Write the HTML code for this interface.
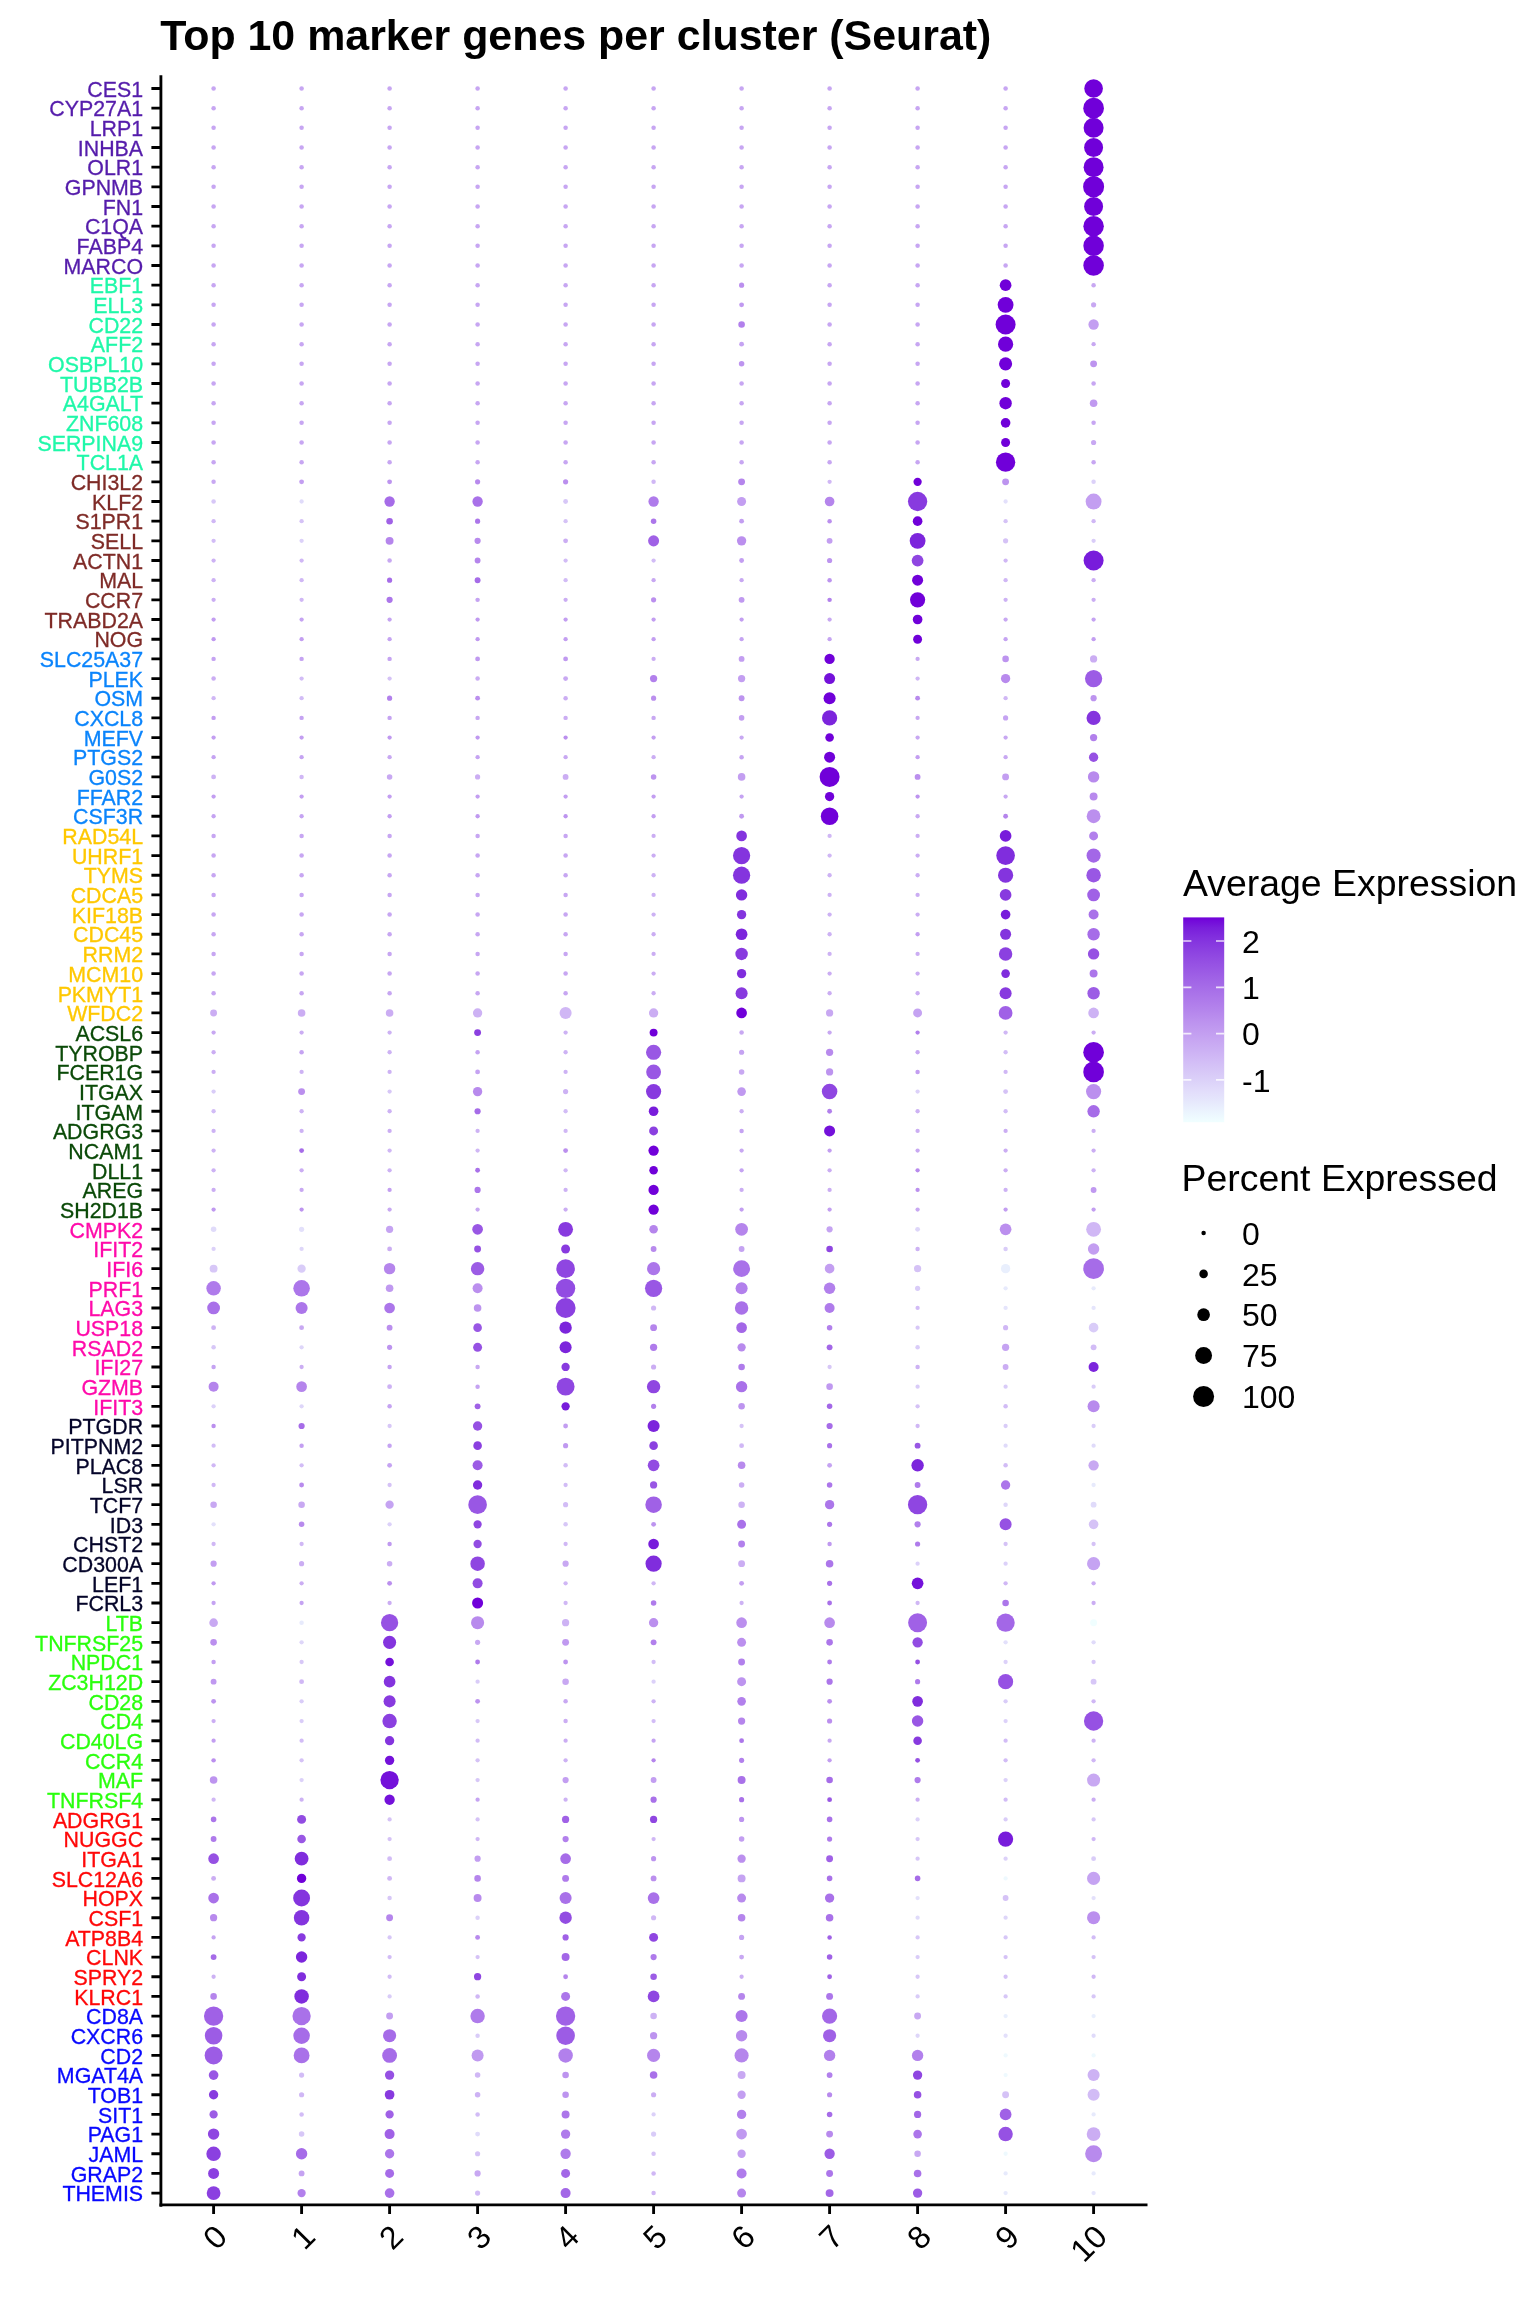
<!DOCTYPE html>
<html><head><meta charset="utf-8"><title>Top 10 marker genes per cluster (Seurat)</title>
<style>html,body{margin:0;padding:0;background:#fff}svg{display:block;will-change:transform}text{font-family:"Liberation Sans",sans-serif}</style></head><body>
<svg width="1536" height="2304" viewBox="0 0 1536 2304">
<rect width="1536" height="2304" fill="#fff"/>
<text x="160.2" y="50.3" font-size="42.9" font-weight="bold" fill="#000">Top 10 marker genes per cluster (Seurat)</text>
<g>
<circle cx="213.6" cy="88.46" r="2.25" fill="#c7a6f2"/>
<circle cx="301.6" cy="88.46" r="2.25" fill="#c7a6f2"/>
<circle cx="389.6" cy="88.46" r="2.25" fill="#c7a6f2"/>
<circle cx="477.6" cy="88.46" r="2.25" fill="#c7a6f2"/>
<circle cx="565.6" cy="88.46" r="2.25" fill="#c7a6f2"/>
<circle cx="653.6" cy="88.46" r="2.25" fill="#c7a6f2"/>
<circle cx="741.6" cy="88.46" r="2.25" fill="#c7a6f2"/>
<circle cx="829.6" cy="88.46" r="2.25" fill="#c7a6f2"/>
<circle cx="917.6" cy="88.46" r="2.25" fill="#c7a6f2"/>
<circle cx="1005.6" cy="88.46" r="2.25" fill="#c7a6f2"/>
<circle cx="1093.6" cy="88.46" r="9.31" fill="#7000d9"/>
<circle cx="213.6" cy="108.13" r="2.25" fill="#c7a6f2"/>
<circle cx="301.6" cy="108.13" r="2.25" fill="#c7a6f2"/>
<circle cx="389.6" cy="108.13" r="2.25" fill="#c7a6f2"/>
<circle cx="477.6" cy="108.13" r="2.25" fill="#c7a6f2"/>
<circle cx="565.6" cy="108.13" r="2.25" fill="#c7a6f2"/>
<circle cx="653.6" cy="108.13" r="2.25" fill="#c7a6f2"/>
<circle cx="741.6" cy="108.13" r="2.25" fill="#c7a6f2"/>
<circle cx="829.6" cy="108.13" r="2.25" fill="#c7a6f2"/>
<circle cx="917.6" cy="108.13" r="2.25" fill="#c7a6f2"/>
<circle cx="1005.6" cy="108.13" r="2.25" fill="#c7a6f2"/>
<circle cx="1093.6" cy="108.13" r="10.34" fill="#7000d9"/>
<circle cx="213.6" cy="127.80" r="2.25" fill="#c7a6f2"/>
<circle cx="301.6" cy="127.80" r="2.25" fill="#c7a6f2"/>
<circle cx="389.6" cy="127.80" r="2.25" fill="#c7a6f2"/>
<circle cx="477.6" cy="127.80" r="2.25" fill="#c7a6f2"/>
<circle cx="565.6" cy="127.80" r="2.25" fill="#c7a6f2"/>
<circle cx="653.6" cy="127.80" r="2.25" fill="#c7a6f2"/>
<circle cx="741.6" cy="127.80" r="2.25" fill="#c7a6f2"/>
<circle cx="829.6" cy="127.80" r="2.25" fill="#c7a6f2"/>
<circle cx="917.6" cy="127.80" r="2.25" fill="#c7a6f2"/>
<circle cx="1005.6" cy="127.80" r="2.25" fill="#c7a6f2"/>
<circle cx="1093.6" cy="127.80" r="10.00" fill="#7000d9"/>
<circle cx="213.6" cy="147.47" r="2.25" fill="#c7a6f2"/>
<circle cx="301.6" cy="147.47" r="2.25" fill="#c7a6f2"/>
<circle cx="389.6" cy="147.47" r="2.25" fill="#c7a6f2"/>
<circle cx="477.6" cy="147.47" r="2.25" fill="#c7a6f2"/>
<circle cx="565.6" cy="147.47" r="2.25" fill="#c7a6f2"/>
<circle cx="653.6" cy="147.47" r="2.25" fill="#c7a6f2"/>
<circle cx="741.6" cy="147.47" r="2.25" fill="#c7a6f2"/>
<circle cx="829.6" cy="147.47" r="2.25" fill="#c7a6f2"/>
<circle cx="917.6" cy="147.47" r="2.25" fill="#c7a6f2"/>
<circle cx="1005.6" cy="147.47" r="2.25" fill="#c7a6f2"/>
<circle cx="1093.6" cy="147.47" r="9.48" fill="#7000d9"/>
<circle cx="213.6" cy="167.14" r="2.25" fill="#c7a6f2"/>
<circle cx="301.6" cy="167.14" r="2.25" fill="#c7a6f2"/>
<circle cx="389.6" cy="167.14" r="2.25" fill="#c7a6f2"/>
<circle cx="477.6" cy="167.14" r="2.25" fill="#c7a6f2"/>
<circle cx="565.6" cy="167.14" r="2.25" fill="#c7a6f2"/>
<circle cx="653.6" cy="167.14" r="2.25" fill="#c7a6f2"/>
<circle cx="741.6" cy="167.14" r="2.25" fill="#c7a6f2"/>
<circle cx="829.6" cy="167.14" r="2.25" fill="#c7a6f2"/>
<circle cx="917.6" cy="167.14" r="2.25" fill="#c7a6f2"/>
<circle cx="1005.6" cy="167.14" r="2.25" fill="#c7a6f2"/>
<circle cx="1093.6" cy="167.14" r="10.00" fill="#7000d9"/>
<circle cx="213.6" cy="186.81" r="2.25" fill="#c7a6f2"/>
<circle cx="301.6" cy="186.81" r="2.25" fill="#c7a6f2"/>
<circle cx="389.6" cy="186.81" r="2.25" fill="#c7a6f2"/>
<circle cx="477.6" cy="186.81" r="2.25" fill="#c7a6f2"/>
<circle cx="565.6" cy="186.81" r="2.25" fill="#c7a6f2"/>
<circle cx="653.6" cy="186.81" r="2.25" fill="#c7a6f2"/>
<circle cx="741.6" cy="186.81" r="2.25" fill="#c7a6f2"/>
<circle cx="829.6" cy="186.81" r="2.25" fill="#c7a6f2"/>
<circle cx="917.6" cy="186.81" r="2.25" fill="#c7a6f2"/>
<circle cx="1005.6" cy="186.81" r="2.25" fill="#c7a6f2"/>
<circle cx="1093.6" cy="186.81" r="10.52" fill="#7000d9"/>
<circle cx="213.6" cy="206.48" r="2.25" fill="#c7a6f2"/>
<circle cx="301.6" cy="206.48" r="2.25" fill="#c7a6f2"/>
<circle cx="389.6" cy="206.48" r="2.25" fill="#c7a6f2"/>
<circle cx="477.6" cy="206.48" r="2.25" fill="#c7a6f2"/>
<circle cx="565.6" cy="206.48" r="2.25" fill="#c7a6f2"/>
<circle cx="653.6" cy="206.48" r="2.25" fill="#c7a6f2"/>
<circle cx="741.6" cy="206.48" r="2.25" fill="#c7a6f2"/>
<circle cx="829.6" cy="206.48" r="2.25" fill="#c7a6f2"/>
<circle cx="917.6" cy="206.48" r="2.25" fill="#c7a6f2"/>
<circle cx="1005.6" cy="206.48" r="2.25" fill="#c7a6f2"/>
<circle cx="1093.6" cy="206.48" r="9.48" fill="#7000d9"/>
<circle cx="213.6" cy="226.15" r="2.25" fill="#c7a6f2"/>
<circle cx="301.6" cy="226.15" r="2.25" fill="#c7a6f2"/>
<circle cx="389.6" cy="226.15" r="2.25" fill="#c7a6f2"/>
<circle cx="477.6" cy="226.15" r="2.25" fill="#c7a6f2"/>
<circle cx="565.6" cy="226.15" r="2.25" fill="#c7a6f2"/>
<circle cx="653.6" cy="226.15" r="2.25" fill="#c7a6f2"/>
<circle cx="741.6" cy="226.15" r="2.25" fill="#c7a6f2"/>
<circle cx="829.6" cy="226.15" r="2.25" fill="#c7a6f2"/>
<circle cx="917.6" cy="226.15" r="2.25" fill="#c7a6f2"/>
<circle cx="1005.6" cy="226.15" r="2.25" fill="#c7a6f2"/>
<circle cx="1093.6" cy="226.15" r="10.26" fill="#7000d9"/>
<circle cx="213.6" cy="245.82" r="2.25" fill="#c7a6f2"/>
<circle cx="301.6" cy="245.82" r="2.25" fill="#c7a6f2"/>
<circle cx="389.6" cy="245.82" r="2.25" fill="#c7a6f2"/>
<circle cx="477.6" cy="245.82" r="2.25" fill="#c7a6f2"/>
<circle cx="565.6" cy="245.82" r="2.25" fill="#c7a6f2"/>
<circle cx="653.6" cy="245.82" r="2.25" fill="#c7a6f2"/>
<circle cx="741.6" cy="245.82" r="2.25" fill="#c7a6f2"/>
<circle cx="829.6" cy="245.82" r="2.25" fill="#c7a6f2"/>
<circle cx="917.6" cy="245.82" r="2.25" fill="#c7a6f2"/>
<circle cx="1005.6" cy="245.82" r="2.25" fill="#c7a6f2"/>
<circle cx="1093.6" cy="245.82" r="10.26" fill="#7000d9"/>
<circle cx="213.6" cy="265.49" r="2.25" fill="#c7a6f2"/>
<circle cx="301.6" cy="265.49" r="2.25" fill="#c7a6f2"/>
<circle cx="389.6" cy="265.49" r="2.25" fill="#c7a6f2"/>
<circle cx="477.6" cy="265.49" r="2.25" fill="#c7a6f2"/>
<circle cx="565.6" cy="265.49" r="2.25" fill="#c7a6f2"/>
<circle cx="653.6" cy="265.49" r="2.25" fill="#c7a6f2"/>
<circle cx="741.6" cy="265.49" r="2.25" fill="#c7a6f2"/>
<circle cx="829.6" cy="265.49" r="2.25" fill="#c7a6f2"/>
<circle cx="917.6" cy="265.49" r="2.25" fill="#c7a6f2"/>
<circle cx="1005.6" cy="265.49" r="2.25" fill="#c7a6f2"/>
<circle cx="1093.6" cy="265.49" r="10.26" fill="#7000d9"/>
<circle cx="213.6" cy="285.15" r="2.25" fill="#c7a6f2"/>
<circle cx="301.6" cy="285.15" r="2.25" fill="#c7a6f2"/>
<circle cx="389.6" cy="285.15" r="2.25" fill="#c7a6f2"/>
<circle cx="477.6" cy="285.15" r="2.25" fill="#c7a6f2"/>
<circle cx="565.6" cy="285.15" r="2.25" fill="#c7a6f2"/>
<circle cx="653.6" cy="285.15" r="2.25" fill="#c7a6f2"/>
<circle cx="741.6" cy="285.15" r="2.59" fill="#bb8fee"/>
<circle cx="829.6" cy="285.15" r="2.25" fill="#c7a6f2"/>
<circle cx="917.6" cy="285.15" r="2.25" fill="#c7a6f2"/>
<circle cx="1005.6" cy="285.15" r="5.86" fill="#7000d9"/>
<circle cx="1093.6" cy="285.15" r="2.24" fill="#c8a8f2"/>
<circle cx="213.6" cy="304.82" r="2.25" fill="#c7a6f2"/>
<circle cx="301.6" cy="304.82" r="2.25" fill="#c7a6f2"/>
<circle cx="389.6" cy="304.82" r="2.25" fill="#c7a6f2"/>
<circle cx="477.6" cy="304.82" r="2.25" fill="#c7a6f2"/>
<circle cx="565.6" cy="304.82" r="2.25" fill="#c7a6f2"/>
<circle cx="653.6" cy="304.82" r="2.25" fill="#c7a6f2"/>
<circle cx="741.6" cy="304.82" r="2.41" fill="#c099f0"/>
<circle cx="829.6" cy="304.82" r="2.25" fill="#c7a6f2"/>
<circle cx="917.6" cy="304.82" r="2.25" fill="#c7a6f2"/>
<circle cx="1005.6" cy="304.82" r="7.93" fill="#7000d9"/>
<circle cx="1093.6" cy="304.82" r="2.59" fill="#c8a8f2"/>
<circle cx="213.6" cy="324.49" r="2.25" fill="#c7a6f2"/>
<circle cx="301.6" cy="324.49" r="2.25" fill="#c7a6f2"/>
<circle cx="389.6" cy="324.49" r="2.25" fill="#c7a6f2"/>
<circle cx="477.6" cy="324.49" r="2.25" fill="#c7a6f2"/>
<circle cx="565.6" cy="324.49" r="2.25" fill="#c7a6f2"/>
<circle cx="653.6" cy="324.49" r="2.25" fill="#c7a6f2"/>
<circle cx="741.6" cy="324.49" r="3.28" fill="#b280ec"/>
<circle cx="829.6" cy="324.49" r="2.25" fill="#c7a6f2"/>
<circle cx="917.6" cy="324.49" r="2.25" fill="#c7a6f2"/>
<circle cx="1005.6" cy="324.49" r="10.00" fill="#7000d9"/>
<circle cx="1093.6" cy="324.49" r="5.17" fill="#c39ef1"/>
<circle cx="213.6" cy="344.16" r="2.25" fill="#c7a6f2"/>
<circle cx="301.6" cy="344.16" r="2.25" fill="#c7a6f2"/>
<circle cx="389.6" cy="344.16" r="2.25" fill="#c7a6f2"/>
<circle cx="477.6" cy="344.16" r="2.25" fill="#c7a6f2"/>
<circle cx="565.6" cy="344.16" r="2.25" fill="#c7a6f2"/>
<circle cx="653.6" cy="344.16" r="2.25" fill="#c7a6f2"/>
<circle cx="741.6" cy="344.16" r="2.41" fill="#c5a3f2"/>
<circle cx="829.6" cy="344.16" r="2.25" fill="#c7a6f2"/>
<circle cx="917.6" cy="344.16" r="2.25" fill="#c7a6f2"/>
<circle cx="1005.6" cy="344.16" r="7.59" fill="#7000d9"/>
<circle cx="1093.6" cy="344.16" r="2.15" fill="#c8a8f2"/>
<circle cx="213.6" cy="363.83" r="2.25" fill="#c7a6f2"/>
<circle cx="301.6" cy="363.83" r="2.25" fill="#c7a6f2"/>
<circle cx="389.6" cy="363.83" r="2.25" fill="#c7a6f2"/>
<circle cx="477.6" cy="363.83" r="2.25" fill="#c7a6f2"/>
<circle cx="565.6" cy="363.83" r="2.25" fill="#c7a6f2"/>
<circle cx="653.6" cy="363.83" r="2.25" fill="#c7a6f2"/>
<circle cx="741.6" cy="363.83" r="2.76" fill="#bd94ef"/>
<circle cx="829.6" cy="363.83" r="2.25" fill="#c7a6f2"/>
<circle cx="917.6" cy="363.83" r="2.25" fill="#c7a6f2"/>
<circle cx="1005.6" cy="363.83" r="6.55" fill="#7000d9"/>
<circle cx="1093.6" cy="363.83" r="3.45" fill="#bd94ef"/>
<circle cx="213.6" cy="383.50" r="2.25" fill="#c7a6f2"/>
<circle cx="301.6" cy="383.50" r="2.25" fill="#c7a6f2"/>
<circle cx="389.6" cy="383.50" r="2.25" fill="#c7a6f2"/>
<circle cx="477.6" cy="383.50" r="2.25" fill="#c7a6f2"/>
<circle cx="565.6" cy="383.50" r="2.25" fill="#c7a6f2"/>
<circle cx="653.6" cy="383.50" r="2.25" fill="#c7a6f2"/>
<circle cx="741.6" cy="383.50" r="2.25" fill="#c7a6f2"/>
<circle cx="829.6" cy="383.50" r="2.25" fill="#c7a6f2"/>
<circle cx="917.6" cy="383.50" r="2.25" fill="#c7a6f2"/>
<circle cx="1005.6" cy="383.50" r="4.48" fill="#7000d9"/>
<circle cx="1093.6" cy="383.50" r="2.25" fill="#c7a6f2"/>
<circle cx="213.6" cy="403.17" r="2.25" fill="#c7a6f2"/>
<circle cx="301.6" cy="403.17" r="2.25" fill="#c7a6f2"/>
<circle cx="389.6" cy="403.17" r="2.25" fill="#c7a6f2"/>
<circle cx="477.6" cy="403.17" r="2.25" fill="#c7a6f2"/>
<circle cx="565.6" cy="403.17" r="2.25" fill="#c7a6f2"/>
<circle cx="653.6" cy="403.17" r="2.25" fill="#c7a6f2"/>
<circle cx="741.6" cy="403.17" r="2.25" fill="#c7a6f2"/>
<circle cx="829.6" cy="403.17" r="2.25" fill="#c7a6f2"/>
<circle cx="917.6" cy="403.17" r="2.25" fill="#c7a6f2"/>
<circle cx="1005.6" cy="403.17" r="6.21" fill="#7000d9"/>
<circle cx="1093.6" cy="403.17" r="3.79" fill="#c099f0"/>
<circle cx="213.6" cy="422.84" r="2.25" fill="#c7a6f2"/>
<circle cx="301.6" cy="422.84" r="2.25" fill="#c7a6f2"/>
<circle cx="389.6" cy="422.84" r="2.25" fill="#c7a6f2"/>
<circle cx="477.6" cy="422.84" r="2.25" fill="#c7a6f2"/>
<circle cx="565.6" cy="422.84" r="2.25" fill="#c7a6f2"/>
<circle cx="653.6" cy="422.84" r="2.25" fill="#c7a6f2"/>
<circle cx="741.6" cy="422.84" r="2.25" fill="#c7a6f2"/>
<circle cx="829.6" cy="422.84" r="2.25" fill="#c7a6f2"/>
<circle cx="917.6" cy="422.84" r="2.25" fill="#c7a6f2"/>
<circle cx="1005.6" cy="422.84" r="4.83" fill="#7000d9"/>
<circle cx="1093.6" cy="422.84" r="2.25" fill="#c7a6f2"/>
<circle cx="213.6" cy="442.51" r="2.25" fill="#c7a6f2"/>
<circle cx="301.6" cy="442.51" r="2.25" fill="#c7a6f2"/>
<circle cx="389.6" cy="442.51" r="2.25" fill="#c7a6f2"/>
<circle cx="477.6" cy="442.51" r="2.25" fill="#c7a6f2"/>
<circle cx="565.6" cy="442.51" r="2.25" fill="#c7a6f2"/>
<circle cx="653.6" cy="442.51" r="2.25" fill="#c7a6f2"/>
<circle cx="741.6" cy="442.51" r="2.25" fill="#c7a6f2"/>
<circle cx="829.6" cy="442.51" r="2.25" fill="#c7a6f2"/>
<circle cx="917.6" cy="442.51" r="2.25" fill="#c7a6f2"/>
<circle cx="1005.6" cy="442.51" r="4.48" fill="#7000d9"/>
<circle cx="1093.6" cy="442.51" r="2.59" fill="#c8a8f2"/>
<circle cx="213.6" cy="462.18" r="2.25" fill="#c7a6f2"/>
<circle cx="301.6" cy="462.18" r="2.25" fill="#c7a6f2"/>
<circle cx="389.6" cy="462.18" r="2.25" fill="#c7a6f2"/>
<circle cx="477.6" cy="462.18" r="2.25" fill="#c7a6f2"/>
<circle cx="565.6" cy="462.18" r="2.25" fill="#c7a6f2"/>
<circle cx="653.6" cy="462.18" r="2.25" fill="#c7a6f2"/>
<circle cx="741.6" cy="462.18" r="2.25" fill="#c7a6f2"/>
<circle cx="829.6" cy="462.18" r="2.25" fill="#c7a6f2"/>
<circle cx="917.6" cy="462.18" r="2.25" fill="#c7a6f2"/>
<circle cx="1005.6" cy="462.18" r="9.66" fill="#7000d9"/>
<circle cx="1093.6" cy="462.18" r="2.25" fill="#c7a6f2"/>
<circle cx="213.6" cy="481.85" r="2.24" fill="#c8a8f2"/>
<circle cx="301.6" cy="481.85" r="2.41" fill="#c39ef1"/>
<circle cx="389.6" cy="481.85" r="2.41" fill="#bd94ef"/>
<circle cx="477.6" cy="481.85" r="2.59" fill="#b88aed"/>
<circle cx="565.6" cy="481.85" r="2.59" fill="#bb8fee"/>
<circle cx="653.6" cy="481.85" r="2.24" fill="#d0b7f5"/>
<circle cx="741.6" cy="481.85" r="3.45" fill="#b585ec"/>
<circle cx="829.6" cy="481.85" r="2.15" fill="#d0b7f5"/>
<circle cx="917.6" cy="481.85" r="4.14" fill="#7000d9"/>
<circle cx="1005.6" cy="481.85" r="3.45" fill="#bd94ef"/>
<circle cx="1093.6" cy="481.85" r="2.24" fill="#dcd1f9"/>
<circle cx="213.6" cy="501.52" r="2.24" fill="#d7c7f7"/>
<circle cx="301.6" cy="501.52" r="2.15" fill="#e0dbfa"/>
<circle cx="389.6" cy="501.52" r="5.17" fill="#a66ce8"/>
<circle cx="477.6" cy="501.52" r="5.17" fill="#a971e9"/>
<circle cx="565.6" cy="501.52" r="2.41" fill="#d7c7f7"/>
<circle cx="653.6" cy="501.52" r="5.17" fill="#af7beb"/>
<circle cx="741.6" cy="501.52" r="4.48" fill="#c39ef1"/>
<circle cx="829.6" cy="501.52" r="4.83" fill="#b585ec"/>
<circle cx="917.6" cy="501.52" r="9.66" fill="#883adf"/>
<circle cx="1005.6" cy="501.52" r="2.15" fill="#e3e0fb"/>
<circle cx="1093.6" cy="501.52" r="7.93" fill="#c39ef1"/>
<circle cx="213.6" cy="521.19" r="2.15" fill="#d0b7f5"/>
<circle cx="301.6" cy="521.19" r="2.15" fill="#d5c2f6"/>
<circle cx="389.6" cy="521.19" r="3.28" fill="#a061e6"/>
<circle cx="477.6" cy="521.19" r="2.59" fill="#ac76ea"/>
<circle cx="565.6" cy="521.19" r="2.15" fill="#d5c2f6"/>
<circle cx="653.6" cy="521.19" r="2.76" fill="#ac76ea"/>
<circle cx="741.6" cy="521.19" r="2.41" fill="#c39ef1"/>
<circle cx="829.6" cy="521.19" r="2.24" fill="#bb8fee"/>
<circle cx="917.6" cy="521.19" r="4.83" fill="#7000d9"/>
<circle cx="1005.6" cy="521.19" r="2.15" fill="#d5c2f6"/>
<circle cx="1093.6" cy="521.19" r="2.15" fill="#d0b7f5"/>
<circle cx="213.6" cy="540.86" r="2.15" fill="#d2bcf6"/>
<circle cx="301.6" cy="540.86" r="2.15" fill="#dcd1f9"/>
<circle cx="389.6" cy="540.86" r="3.97" fill="#b585ec"/>
<circle cx="477.6" cy="540.86" r="3.10" fill="#b88aed"/>
<circle cx="565.6" cy="540.86" r="2.41" fill="#cbadf3"/>
<circle cx="653.6" cy="540.86" r="5.52" fill="#a061e6"/>
<circle cx="741.6" cy="540.86" r="4.66" fill="#bb8fee"/>
<circle cx="829.6" cy="540.86" r="2.93" fill="#c39ef1"/>
<circle cx="917.6" cy="540.86" r="7.93" fill="#7c25dc"/>
<circle cx="1005.6" cy="540.86" r="2.59" fill="#d5c2f6"/>
<circle cx="1093.6" cy="540.86" r="2.15" fill="#d9ccf8"/>
<circle cx="213.6" cy="560.53" r="2.15" fill="#cdb2f4"/>
<circle cx="301.6" cy="560.53" r="2.15" fill="#d0b7f5"/>
<circle cx="389.6" cy="560.53" r="2.24" fill="#c8a8f2"/>
<circle cx="477.6" cy="560.53" r="2.93" fill="#b585ec"/>
<circle cx="565.6" cy="560.53" r="2.15" fill="#d2bcf6"/>
<circle cx="653.6" cy="560.53" r="2.15" fill="#d2bcf6"/>
<circle cx="741.6" cy="560.53" r="2.41" fill="#c39ef1"/>
<circle cx="829.6" cy="560.53" r="2.59" fill="#bd94ef"/>
<circle cx="917.6" cy="560.53" r="5.86" fill="#8f46e1"/>
<circle cx="1005.6" cy="560.53" r="2.15" fill="#d0b7f5"/>
<circle cx="1093.6" cy="560.53" r="10.00" fill="#781cdb"/>
<circle cx="213.6" cy="580.20" r="2.15" fill="#cdb2f4"/>
<circle cx="301.6" cy="580.20" r="2.15" fill="#d0b7f5"/>
<circle cx="389.6" cy="580.20" r="2.59" fill="#a66ce8"/>
<circle cx="477.6" cy="580.20" r="2.93" fill="#a66ce8"/>
<circle cx="565.6" cy="580.20" r="2.15" fill="#d2bcf6"/>
<circle cx="653.6" cy="580.20" r="2.15" fill="#c8a8f2"/>
<circle cx="741.6" cy="580.20" r="2.15" fill="#c8a8f2"/>
<circle cx="829.6" cy="580.20" r="2.24" fill="#bd94ef"/>
<circle cx="917.6" cy="580.20" r="5.52" fill="#7000d9"/>
<circle cx="1005.6" cy="580.20" r="2.15" fill="#d0b7f5"/>
<circle cx="1093.6" cy="580.20" r="2.15" fill="#cbadf3"/>
<circle cx="213.6" cy="599.87" r="2.15" fill="#cbadf3"/>
<circle cx="301.6" cy="599.87" r="2.15" fill="#d0b7f5"/>
<circle cx="389.6" cy="599.87" r="3.10" fill="#ac76ea"/>
<circle cx="477.6" cy="599.87" r="2.24" fill="#c5a3f2"/>
<circle cx="565.6" cy="599.87" r="2.15" fill="#cbadf3"/>
<circle cx="653.6" cy="599.87" r="2.59" fill="#bb8fee"/>
<circle cx="741.6" cy="599.87" r="2.93" fill="#c099f0"/>
<circle cx="829.6" cy="599.87" r="2.24" fill="#b280ec"/>
<circle cx="917.6" cy="599.87" r="7.59" fill="#7000d9"/>
<circle cx="1005.6" cy="599.87" r="2.15" fill="#cdb2f4"/>
<circle cx="1093.6" cy="599.87" r="2.15" fill="#cbadf3"/>
<circle cx="213.6" cy="619.54" r="2.15" fill="#c39ef1"/>
<circle cx="301.6" cy="619.54" r="2.15" fill="#c5a3f2"/>
<circle cx="389.6" cy="619.54" r="2.15" fill="#c5a3f2"/>
<circle cx="477.6" cy="619.54" r="2.15" fill="#c099f0"/>
<circle cx="565.6" cy="619.54" r="2.15" fill="#c39ef1"/>
<circle cx="653.6" cy="619.54" r="2.15" fill="#c39ef1"/>
<circle cx="741.6" cy="619.54" r="2.15" fill="#c39ef1"/>
<circle cx="829.6" cy="619.54" r="2.15" fill="#c8a8f2"/>
<circle cx="917.6" cy="619.54" r="4.83" fill="#7000d9"/>
<circle cx="1005.6" cy="619.54" r="2.15" fill="#c8a8f2"/>
<circle cx="1093.6" cy="619.54" r="2.15" fill="#c5a3f2"/>
<circle cx="213.6" cy="639.21" r="2.15" fill="#c099f0"/>
<circle cx="301.6" cy="639.21" r="2.15" fill="#c39ef1"/>
<circle cx="389.6" cy="639.21" r="2.15" fill="#c5a3f2"/>
<circle cx="477.6" cy="639.21" r="2.15" fill="#c099f0"/>
<circle cx="565.6" cy="639.21" r="2.15" fill="#c39ef1"/>
<circle cx="653.6" cy="639.21" r="2.15" fill="#c39ef1"/>
<circle cx="741.6" cy="639.21" r="2.15" fill="#c5a3f2"/>
<circle cx="829.6" cy="639.21" r="2.15" fill="#c5a3f2"/>
<circle cx="917.6" cy="639.21" r="4.48" fill="#7000d9"/>
<circle cx="1005.6" cy="639.21" r="2.15" fill="#c5a3f2"/>
<circle cx="1093.6" cy="639.21" r="2.15" fill="#c39ef1"/>
<circle cx="213.6" cy="658.88" r="2.24" fill="#c5a3f2"/>
<circle cx="301.6" cy="658.88" r="2.24" fill="#c5a3f2"/>
<circle cx="389.6" cy="658.88" r="2.24" fill="#c5a3f2"/>
<circle cx="477.6" cy="658.88" r="2.41" fill="#c099f0"/>
<circle cx="565.6" cy="658.88" r="2.41" fill="#c099f0"/>
<circle cx="653.6" cy="658.88" r="2.15" fill="#cbadf3"/>
<circle cx="741.6" cy="658.88" r="2.93" fill="#c39ef1"/>
<circle cx="829.6" cy="658.88" r="5.17" fill="#7000d9"/>
<circle cx="917.6" cy="658.88" r="2.15" fill="#c8a8f2"/>
<circle cx="1005.6" cy="658.88" r="3.28" fill="#bd94ef"/>
<circle cx="1093.6" cy="658.88" r="3.62" fill="#cbadf3"/>
<circle cx="213.6" cy="678.55" r="2.24" fill="#cbadf3"/>
<circle cx="301.6" cy="678.55" r="2.15" fill="#d2bcf6"/>
<circle cx="389.6" cy="678.55" r="2.15" fill="#d5c2f6"/>
<circle cx="477.6" cy="678.55" r="2.24" fill="#cbadf3"/>
<circle cx="565.6" cy="678.55" r="2.41" fill="#c8a8f2"/>
<circle cx="653.6" cy="678.55" r="3.62" fill="#b280ec"/>
<circle cx="741.6" cy="678.55" r="3.62" fill="#c39ef1"/>
<circle cx="829.6" cy="678.55" r="5.52" fill="#7411da"/>
<circle cx="917.6" cy="678.55" r="2.15" fill="#d0b7f5"/>
<circle cx="1005.6" cy="678.55" r="4.66" fill="#b88aed"/>
<circle cx="1093.6" cy="678.55" r="8.62" fill="#9c5ce5"/>
<circle cx="213.6" cy="698.21" r="2.15" fill="#d0b7f5"/>
<circle cx="301.6" cy="698.21" r="2.15" fill="#d2bcf6"/>
<circle cx="389.6" cy="698.21" r="2.59" fill="#b280ec"/>
<circle cx="477.6" cy="698.21" r="2.41" fill="#bb8fee"/>
<circle cx="565.6" cy="698.21" r="2.24" fill="#cbadf3"/>
<circle cx="653.6" cy="698.21" r="2.59" fill="#bb8fee"/>
<circle cx="741.6" cy="698.21" r="2.93" fill="#bd94ef"/>
<circle cx="829.6" cy="698.21" r="6.03" fill="#7000d9"/>
<circle cx="917.6" cy="698.21" r="2.41" fill="#b88aed"/>
<circle cx="1005.6" cy="698.21" r="2.15" fill="#d0b7f5"/>
<circle cx="1093.6" cy="698.21" r="3.10" fill="#bd94ef"/>
<circle cx="213.6" cy="717.88" r="2.24" fill="#c39ef1"/>
<circle cx="301.6" cy="717.88" r="2.24" fill="#c5a3f2"/>
<circle cx="389.6" cy="717.88" r="2.24" fill="#c5a3f2"/>
<circle cx="477.6" cy="717.88" r="2.24" fill="#c8a8f2"/>
<circle cx="565.6" cy="717.88" r="2.24" fill="#cbadf3"/>
<circle cx="653.6" cy="717.88" r="2.24" fill="#c8a8f2"/>
<circle cx="741.6" cy="717.88" r="2.76" fill="#c39ef1"/>
<circle cx="829.6" cy="717.88" r="7.59" fill="#7c25dc"/>
<circle cx="917.6" cy="717.88" r="2.15" fill="#c8a8f2"/>
<circle cx="1005.6" cy="717.88" r="2.59" fill="#c5a3f2"/>
<circle cx="1093.6" cy="717.88" r="7.07" fill="#8434de"/>
<circle cx="213.6" cy="737.55" r="2.15" fill="#c39ef1"/>
<circle cx="301.6" cy="737.55" r="2.15" fill="#c39ef1"/>
<circle cx="389.6" cy="737.55" r="2.15" fill="#c099f0"/>
<circle cx="477.6" cy="737.55" r="2.15" fill="#c099f0"/>
<circle cx="565.6" cy="737.55" r="2.15" fill="#bb8fee"/>
<circle cx="653.6" cy="737.55" r="2.15" fill="#c39ef1"/>
<circle cx="741.6" cy="737.55" r="2.15" fill="#c8a8f2"/>
<circle cx="829.6" cy="737.55" r="4.31" fill="#7000d9"/>
<circle cx="917.6" cy="737.55" r="2.15" fill="#c8a8f2"/>
<circle cx="1005.6" cy="737.55" r="2.15" fill="#c8a8f2"/>
<circle cx="1093.6" cy="737.55" r="3.62" fill="#b280ec"/>
<circle cx="213.6" cy="757.22" r="2.15" fill="#c5a3f2"/>
<circle cx="301.6" cy="757.22" r="2.15" fill="#c5a3f2"/>
<circle cx="389.6" cy="757.22" r="2.15" fill="#c8a8f2"/>
<circle cx="477.6" cy="757.22" r="2.15" fill="#c5a3f2"/>
<circle cx="565.6" cy="757.22" r="2.15" fill="#c8a8f2"/>
<circle cx="653.6" cy="757.22" r="2.15" fill="#cbadf3"/>
<circle cx="741.6" cy="757.22" r="2.24" fill="#c5a3f2"/>
<circle cx="829.6" cy="757.22" r="5.52" fill="#7000d9"/>
<circle cx="917.6" cy="757.22" r="2.15" fill="#c39ef1"/>
<circle cx="1005.6" cy="757.22" r="2.15" fill="#c8a8f2"/>
<circle cx="1093.6" cy="757.22" r="4.66" fill="#9651e3"/>
<circle cx="213.6" cy="776.89" r="2.41" fill="#cdb2f4"/>
<circle cx="301.6" cy="776.89" r="2.24" fill="#d0b7f5"/>
<circle cx="389.6" cy="776.89" r="2.76" fill="#c8a8f2"/>
<circle cx="477.6" cy="776.89" r="2.59" fill="#cbadf3"/>
<circle cx="565.6" cy="776.89" r="2.93" fill="#cbadf3"/>
<circle cx="653.6" cy="776.89" r="2.76" fill="#bd94ef"/>
<circle cx="741.6" cy="776.89" r="3.79" fill="#c39ef1"/>
<circle cx="829.6" cy="776.89" r="10.00" fill="#7000d9"/>
<circle cx="917.6" cy="776.89" r="2.93" fill="#bb8fee"/>
<circle cx="1005.6" cy="776.89" r="3.45" fill="#c39ef1"/>
<circle cx="1093.6" cy="776.89" r="5.69" fill="#b88aed"/>
<circle cx="213.6" cy="796.56" r="2.15" fill="#c39ef1"/>
<circle cx="301.6" cy="796.56" r="2.15" fill="#c39ef1"/>
<circle cx="389.6" cy="796.56" r="2.15" fill="#c39ef1"/>
<circle cx="477.6" cy="796.56" r="2.15" fill="#c39ef1"/>
<circle cx="565.6" cy="796.56" r="2.15" fill="#c39ef1"/>
<circle cx="653.6" cy="796.56" r="2.15" fill="#c39ef1"/>
<circle cx="741.6" cy="796.56" r="2.15" fill="#c5a3f2"/>
<circle cx="829.6" cy="796.56" r="4.66" fill="#7000d9"/>
<circle cx="917.6" cy="796.56" r="2.15" fill="#bd94ef"/>
<circle cx="1005.6" cy="796.56" r="2.15" fill="#c8a8f2"/>
<circle cx="1093.6" cy="796.56" r="3.97" fill="#b88aed"/>
<circle cx="213.6" cy="816.23" r="2.15" fill="#c5a3f2"/>
<circle cx="301.6" cy="816.23" r="2.15" fill="#c5a3f2"/>
<circle cx="389.6" cy="816.23" r="2.15" fill="#c39ef1"/>
<circle cx="477.6" cy="816.23" r="2.15" fill="#c099f0"/>
<circle cx="565.6" cy="816.23" r="2.15" fill="#bd94ef"/>
<circle cx="653.6" cy="816.23" r="2.15" fill="#c39ef1"/>
<circle cx="741.6" cy="816.23" r="2.41" fill="#c099f0"/>
<circle cx="829.6" cy="816.23" r="8.79" fill="#7000d9"/>
<circle cx="917.6" cy="816.23" r="2.15" fill="#c8a8f2"/>
<circle cx="1005.6" cy="816.23" r="2.41" fill="#b585ec"/>
<circle cx="1093.6" cy="816.23" r="6.90" fill="#bb8fee"/>
<circle cx="213.6" cy="835.90" r="2.25" fill="#c7a6f2"/>
<circle cx="301.6" cy="835.90" r="2.25" fill="#c7a6f2"/>
<circle cx="389.6" cy="835.90" r="2.25" fill="#c7a6f2"/>
<circle cx="477.6" cy="835.90" r="2.25" fill="#c7a6f2"/>
<circle cx="565.6" cy="835.90" r="2.25" fill="#c7a6f2"/>
<circle cx="653.6" cy="835.90" r="2.15" fill="#cbadf3"/>
<circle cx="741.6" cy="835.90" r="5.34" fill="#8434de"/>
<circle cx="829.6" cy="835.90" r="2.15" fill="#d0b7f5"/>
<circle cx="917.6" cy="835.90" r="2.15" fill="#cbadf3"/>
<circle cx="1005.6" cy="835.90" r="5.86" fill="#781cdb"/>
<circle cx="1093.6" cy="835.90" r="4.48" fill="#b280ec"/>
<circle cx="213.6" cy="855.57" r="2.25" fill="#c7a6f2"/>
<circle cx="301.6" cy="855.57" r="2.25" fill="#c7a6f2"/>
<circle cx="389.6" cy="855.57" r="2.25" fill="#c7a6f2"/>
<circle cx="477.6" cy="855.57" r="2.25" fill="#c7a6f2"/>
<circle cx="565.6" cy="855.57" r="2.25" fill="#c7a6f2"/>
<circle cx="653.6" cy="855.57" r="2.15" fill="#cbadf3"/>
<circle cx="741.6" cy="855.57" r="8.62" fill="#8434de"/>
<circle cx="829.6" cy="855.57" r="2.15" fill="#d0b7f5"/>
<circle cx="917.6" cy="855.57" r="2.15" fill="#cbadf3"/>
<circle cx="1005.6" cy="855.57" r="9.31" fill="#802ddd"/>
<circle cx="1093.6" cy="855.57" r="7.07" fill="#a367e7"/>
<circle cx="213.6" cy="875.24" r="2.25" fill="#c7a6f2"/>
<circle cx="301.6" cy="875.24" r="2.25" fill="#c7a6f2"/>
<circle cx="389.6" cy="875.24" r="2.25" fill="#c7a6f2"/>
<circle cx="477.6" cy="875.24" r="2.25" fill="#c7a6f2"/>
<circle cx="565.6" cy="875.24" r="2.25" fill="#c7a6f2"/>
<circle cx="653.6" cy="875.24" r="2.15" fill="#cdb2f4"/>
<circle cx="741.6" cy="875.24" r="8.62" fill="#8434de"/>
<circle cx="829.6" cy="875.24" r="2.15" fill="#cdb2f4"/>
<circle cx="917.6" cy="875.24" r="2.15" fill="#cbadf3"/>
<circle cx="1005.6" cy="875.24" r="7.59" fill="#8434de"/>
<circle cx="1093.6" cy="875.24" r="7.24" fill="#9957e4"/>
<circle cx="213.6" cy="894.91" r="2.25" fill="#c7a6f2"/>
<circle cx="301.6" cy="894.91" r="2.25" fill="#c7a6f2"/>
<circle cx="389.6" cy="894.91" r="2.25" fill="#c7a6f2"/>
<circle cx="477.6" cy="894.91" r="2.25" fill="#c7a6f2"/>
<circle cx="565.6" cy="894.91" r="2.25" fill="#c7a6f2"/>
<circle cx="653.6" cy="894.91" r="2.15" fill="#cdb2f4"/>
<circle cx="741.6" cy="894.91" r="5.69" fill="#802ddd"/>
<circle cx="829.6" cy="894.91" r="2.15" fill="#cdb2f4"/>
<circle cx="917.6" cy="894.91" r="2.15" fill="#cbadf3"/>
<circle cx="1005.6" cy="894.91" r="5.86" fill="#883adf"/>
<circle cx="1093.6" cy="894.91" r="6.38" fill="#a061e6"/>
<circle cx="213.6" cy="914.58" r="2.25" fill="#c7a6f2"/>
<circle cx="301.6" cy="914.58" r="2.25" fill="#c7a6f2"/>
<circle cx="389.6" cy="914.58" r="2.25" fill="#c7a6f2"/>
<circle cx="477.6" cy="914.58" r="2.25" fill="#c7a6f2"/>
<circle cx="565.6" cy="914.58" r="2.25" fill="#c7a6f2"/>
<circle cx="653.6" cy="914.58" r="2.15" fill="#cdb2f4"/>
<circle cx="741.6" cy="914.58" r="4.66" fill="#8434de"/>
<circle cx="829.6" cy="914.58" r="2.15" fill="#cdb2f4"/>
<circle cx="917.6" cy="914.58" r="2.15" fill="#cbadf3"/>
<circle cx="1005.6" cy="914.58" r="4.83" fill="#781cdb"/>
<circle cx="1093.6" cy="914.58" r="5.00" fill="#a971e9"/>
<circle cx="213.6" cy="934.25" r="2.25" fill="#c7a6f2"/>
<circle cx="301.6" cy="934.25" r="2.25" fill="#c7a6f2"/>
<circle cx="389.6" cy="934.25" r="2.25" fill="#c7a6f2"/>
<circle cx="477.6" cy="934.25" r="2.25" fill="#c7a6f2"/>
<circle cx="565.6" cy="934.25" r="2.25" fill="#c7a6f2"/>
<circle cx="653.6" cy="934.25" r="2.15" fill="#cbadf3"/>
<circle cx="741.6" cy="934.25" r="5.86" fill="#7c25dc"/>
<circle cx="829.6" cy="934.25" r="2.15" fill="#cdb2f4"/>
<circle cx="917.6" cy="934.25" r="2.15" fill="#c39ef1"/>
<circle cx="1005.6" cy="934.25" r="5.52" fill="#8434de"/>
<circle cx="1093.6" cy="934.25" r="6.21" fill="#a66ce8"/>
<circle cx="213.6" cy="953.92" r="2.25" fill="#c7a6f2"/>
<circle cx="301.6" cy="953.92" r="2.25" fill="#c7a6f2"/>
<circle cx="389.6" cy="953.92" r="2.25" fill="#c7a6f2"/>
<circle cx="477.6" cy="953.92" r="2.25" fill="#c7a6f2"/>
<circle cx="565.6" cy="953.92" r="2.25" fill="#c7a6f2"/>
<circle cx="653.6" cy="953.92" r="2.15" fill="#cbadf3"/>
<circle cx="741.6" cy="953.92" r="6.21" fill="#883adf"/>
<circle cx="829.6" cy="953.92" r="2.15" fill="#cdb2f4"/>
<circle cx="917.6" cy="953.92" r="2.15" fill="#cbadf3"/>
<circle cx="1005.6" cy="953.92" r="6.72" fill="#8b40e0"/>
<circle cx="1093.6" cy="953.92" r="5.69" fill="#9651e3"/>
<circle cx="213.6" cy="973.59" r="2.25" fill="#c7a6f2"/>
<circle cx="301.6" cy="973.59" r="2.25" fill="#c7a6f2"/>
<circle cx="389.6" cy="973.59" r="2.25" fill="#c7a6f2"/>
<circle cx="477.6" cy="973.59" r="2.25" fill="#c7a6f2"/>
<circle cx="565.6" cy="973.59" r="2.25" fill="#c7a6f2"/>
<circle cx="653.6" cy="973.59" r="2.15" fill="#cbadf3"/>
<circle cx="741.6" cy="973.59" r="4.66" fill="#802ddd"/>
<circle cx="829.6" cy="973.59" r="2.15" fill="#cbadf3"/>
<circle cx="917.6" cy="973.59" r="2.15" fill="#cbadf3"/>
<circle cx="1005.6" cy="973.59" r="4.31" fill="#802ddd"/>
<circle cx="1093.6" cy="973.59" r="3.97" fill="#ac76ea"/>
<circle cx="213.6" cy="993.26" r="2.25" fill="#c7a6f2"/>
<circle cx="301.6" cy="993.26" r="2.25" fill="#c7a6f2"/>
<circle cx="389.6" cy="993.26" r="2.25" fill="#c7a6f2"/>
<circle cx="477.6" cy="993.26" r="2.25" fill="#c7a6f2"/>
<circle cx="565.6" cy="993.26" r="2.25" fill="#c7a6f2"/>
<circle cx="653.6" cy="993.26" r="2.15" fill="#cbadf3"/>
<circle cx="741.6" cy="993.26" r="6.03" fill="#883adf"/>
<circle cx="829.6" cy="993.26" r="2.15" fill="#cbadf3"/>
<circle cx="917.6" cy="993.26" r="2.15" fill="#cbadf3"/>
<circle cx="1005.6" cy="993.26" r="6.03" fill="#883adf"/>
<circle cx="1093.6" cy="993.26" r="6.21" fill="#9c5ce5"/>
<circle cx="213.6" cy="1012.93" r="3.45" fill="#cbadf3"/>
<circle cx="301.6" cy="1012.93" r="3.79" fill="#cbadf3"/>
<circle cx="389.6" cy="1012.93" r="3.79" fill="#cbadf3"/>
<circle cx="477.6" cy="1012.93" r="4.66" fill="#cdb2f4"/>
<circle cx="565.6" cy="1012.93" r="6.03" fill="#d0b7f5"/>
<circle cx="653.6" cy="1012.93" r="4.66" fill="#cbadf3"/>
<circle cx="741.6" cy="1012.93" r="5.34" fill="#7000d9"/>
<circle cx="829.6" cy="1012.93" r="3.62" fill="#c8a8f2"/>
<circle cx="917.6" cy="1012.93" r="4.48" fill="#c5a3f2"/>
<circle cx="1005.6" cy="1012.93" r="6.90" fill="#a061e6"/>
<circle cx="1093.6" cy="1012.93" r="5.34" fill="#cdb2f4"/>
<circle cx="213.6" cy="1032.60" r="2.15" fill="#c8a8f2"/>
<circle cx="301.6" cy="1032.60" r="2.15" fill="#cbadf3"/>
<circle cx="389.6" cy="1032.60" r="2.15" fill="#cdb2f4"/>
<circle cx="477.6" cy="1032.60" r="3.45" fill="#8b40e0"/>
<circle cx="565.6" cy="1032.60" r="2.15" fill="#cdb2f4"/>
<circle cx="653.6" cy="1032.60" r="3.97" fill="#7000d9"/>
<circle cx="741.6" cy="1032.60" r="2.24" fill="#c8a8f2"/>
<circle cx="829.6" cy="1032.60" r="2.15" fill="#c8a8f2"/>
<circle cx="917.6" cy="1032.60" r="2.15" fill="#b280ec"/>
<circle cx="1005.6" cy="1032.60" r="2.15" fill="#d0b7f5"/>
<circle cx="1093.6" cy="1032.60" r="2.15" fill="#cbadf3"/>
<circle cx="213.6" cy="1052.27" r="2.15" fill="#cbadf3"/>
<circle cx="301.6" cy="1052.27" r="2.24" fill="#c5a3f2"/>
<circle cx="389.6" cy="1052.27" r="2.15" fill="#cdb2f4"/>
<circle cx="477.6" cy="1052.27" r="2.24" fill="#c5a3f2"/>
<circle cx="565.6" cy="1052.27" r="2.15" fill="#cdb2f4"/>
<circle cx="653.6" cy="1052.27" r="7.59" fill="#9957e4"/>
<circle cx="741.6" cy="1052.27" r="2.59" fill="#c5a3f2"/>
<circle cx="829.6" cy="1052.27" r="3.62" fill="#b88aed"/>
<circle cx="917.6" cy="1052.27" r="2.15" fill="#c8a8f2"/>
<circle cx="1005.6" cy="1052.27" r="2.15" fill="#d2bcf6"/>
<circle cx="1093.6" cy="1052.27" r="10.34" fill="#7000d9"/>
<circle cx="213.6" cy="1071.93" r="2.15" fill="#cbadf3"/>
<circle cx="301.6" cy="1071.93" r="2.15" fill="#cdb2f4"/>
<circle cx="389.6" cy="1071.93" r="2.15" fill="#cdb2f4"/>
<circle cx="477.6" cy="1071.93" r="2.41" fill="#c5a3f2"/>
<circle cx="565.6" cy="1071.93" r="2.15" fill="#cdb2f4"/>
<circle cx="653.6" cy="1071.93" r="7.41" fill="#9957e4"/>
<circle cx="741.6" cy="1071.93" r="2.76" fill="#c8a8f2"/>
<circle cx="829.6" cy="1071.93" r="3.62" fill="#bd94ef"/>
<circle cx="917.6" cy="1071.93" r="2.24" fill="#c39ef1"/>
<circle cx="1005.6" cy="1071.93" r="2.15" fill="#d0b7f5"/>
<circle cx="1093.6" cy="1071.93" r="10.34" fill="#7000d9"/>
<circle cx="213.6" cy="1091.60" r="2.15" fill="#d9ccf8"/>
<circle cx="301.6" cy="1091.60" r="3.45" fill="#bb8fee"/>
<circle cx="389.6" cy="1091.60" r="2.15" fill="#d7c7f7"/>
<circle cx="477.6" cy="1091.60" r="4.66" fill="#b88aed"/>
<circle cx="565.6" cy="1091.60" r="2.59" fill="#cdb2f4"/>
<circle cx="653.6" cy="1091.60" r="7.59" fill="#883adf"/>
<circle cx="741.6" cy="1091.60" r="4.31" fill="#c099f0"/>
<circle cx="829.6" cy="1091.60" r="7.76" fill="#8f46e1"/>
<circle cx="917.6" cy="1091.60" r="2.15" fill="#dcd1f9"/>
<circle cx="1005.6" cy="1091.60" r="2.41" fill="#d5c2f6"/>
<circle cx="1093.6" cy="1091.60" r="7.59" fill="#bb8fee"/>
<circle cx="213.6" cy="1111.27" r="2.15" fill="#d2bcf6"/>
<circle cx="301.6" cy="1111.27" r="2.15" fill="#cdb2f4"/>
<circle cx="389.6" cy="1111.27" r="2.15" fill="#cdb2f4"/>
<circle cx="477.6" cy="1111.27" r="3.10" fill="#a66ce8"/>
<circle cx="565.6" cy="1111.27" r="2.15" fill="#d2bcf6"/>
<circle cx="653.6" cy="1111.27" r="4.83" fill="#781cdb"/>
<circle cx="741.6" cy="1111.27" r="2.15" fill="#cbadf3"/>
<circle cx="829.6" cy="1111.27" r="2.41" fill="#b280ec"/>
<circle cx="917.6" cy="1111.27" r="2.15" fill="#cdb2f4"/>
<circle cx="1005.6" cy="1111.27" r="2.15" fill="#d2bcf6"/>
<circle cx="1093.6" cy="1111.27" r="6.21" fill="#a66ce8"/>
<circle cx="213.6" cy="1130.94" r="2.15" fill="#cdb2f4"/>
<circle cx="301.6" cy="1130.94" r="2.15" fill="#cdb2f4"/>
<circle cx="389.6" cy="1130.94" r="2.15" fill="#cbadf3"/>
<circle cx="477.6" cy="1130.94" r="2.15" fill="#cdb2f4"/>
<circle cx="565.6" cy="1130.94" r="2.15" fill="#d0b7f5"/>
<circle cx="653.6" cy="1130.94" r="4.48" fill="#8b40e0"/>
<circle cx="741.6" cy="1130.94" r="2.24" fill="#c5a3f2"/>
<circle cx="829.6" cy="1130.94" r="5.52" fill="#7411da"/>
<circle cx="917.6" cy="1130.94" r="2.15" fill="#cbadf3"/>
<circle cx="1005.6" cy="1130.94" r="2.15" fill="#cbadf3"/>
<circle cx="1093.6" cy="1130.94" r="2.15" fill="#cbadf3"/>
<circle cx="213.6" cy="1150.61" r="2.15" fill="#cdb2f4"/>
<circle cx="301.6" cy="1150.61" r="2.41" fill="#a66ce8"/>
<circle cx="389.6" cy="1150.61" r="2.15" fill="#d0b7f5"/>
<circle cx="477.6" cy="1150.61" r="2.15" fill="#d0b7f5"/>
<circle cx="565.6" cy="1150.61" r="2.41" fill="#bb8fee"/>
<circle cx="653.6" cy="1150.61" r="5.17" fill="#7000d9"/>
<circle cx="741.6" cy="1150.61" r="2.15" fill="#c8a8f2"/>
<circle cx="829.6" cy="1150.61" r="2.15" fill="#c39ef1"/>
<circle cx="917.6" cy="1150.61" r="2.15" fill="#c8a8f2"/>
<circle cx="1005.6" cy="1150.61" r="2.15" fill="#cbadf3"/>
<circle cx="1093.6" cy="1150.61" r="2.15" fill="#cbadf3"/>
<circle cx="213.6" cy="1170.28" r="2.15" fill="#cdb2f4"/>
<circle cx="301.6" cy="1170.28" r="2.15" fill="#cbadf3"/>
<circle cx="389.6" cy="1170.28" r="2.15" fill="#cdb2f4"/>
<circle cx="477.6" cy="1170.28" r="2.41" fill="#a971e9"/>
<circle cx="565.6" cy="1170.28" r="2.15" fill="#d0b7f5"/>
<circle cx="653.6" cy="1170.28" r="4.31" fill="#7000d9"/>
<circle cx="741.6" cy="1170.28" r="2.15" fill="#c5a3f2"/>
<circle cx="829.6" cy="1170.28" r="2.15" fill="#cbadf3"/>
<circle cx="917.6" cy="1170.28" r="2.15" fill="#b88aed"/>
<circle cx="1005.6" cy="1170.28" r="2.15" fill="#cbadf3"/>
<circle cx="1093.6" cy="1170.28" r="2.15" fill="#cdb2f4"/>
<circle cx="213.6" cy="1189.95" r="2.15" fill="#cbadf3"/>
<circle cx="301.6" cy="1189.95" r="2.15" fill="#c8a8f2"/>
<circle cx="389.6" cy="1189.95" r="2.15" fill="#c39ef1"/>
<circle cx="477.6" cy="1189.95" r="3.10" fill="#ac76ea"/>
<circle cx="565.6" cy="1189.95" r="2.15" fill="#cdb2f4"/>
<circle cx="653.6" cy="1189.95" r="5.17" fill="#7000d9"/>
<circle cx="741.6" cy="1189.95" r="2.15" fill="#cbadf3"/>
<circle cx="829.6" cy="1189.95" r="2.15" fill="#cbadf3"/>
<circle cx="917.6" cy="1189.95" r="2.15" fill="#bb8fee"/>
<circle cx="1005.6" cy="1189.95" r="2.15" fill="#cdb2f4"/>
<circle cx="1093.6" cy="1189.95" r="2.93" fill="#c099f0"/>
<circle cx="213.6" cy="1209.62" r="2.15" fill="#c099f0"/>
<circle cx="301.6" cy="1209.62" r="2.15" fill="#bd94ef"/>
<circle cx="389.6" cy="1209.62" r="2.15" fill="#c8a8f2"/>
<circle cx="477.6" cy="1209.62" r="2.15" fill="#c8a8f2"/>
<circle cx="565.6" cy="1209.62" r="2.15" fill="#cbadf3"/>
<circle cx="653.6" cy="1209.62" r="5.17" fill="#7000d9"/>
<circle cx="741.6" cy="1209.62" r="2.15" fill="#c39ef1"/>
<circle cx="829.6" cy="1209.62" r="2.15" fill="#c39ef1"/>
<circle cx="917.6" cy="1209.62" r="2.15" fill="#c8a8f2"/>
<circle cx="1005.6" cy="1209.62" r="2.15" fill="#c39ef1"/>
<circle cx="1093.6" cy="1209.62" r="2.15" fill="#c39ef1"/>
<circle cx="213.6" cy="1229.29" r="2.76" fill="#e0dbfa"/>
<circle cx="301.6" cy="1229.29" r="2.59" fill="#e3e0fb"/>
<circle cx="389.6" cy="1229.29" r="3.62" fill="#c5a3f2"/>
<circle cx="477.6" cy="1229.29" r="5.34" fill="#9957e4"/>
<circle cx="565.6" cy="1229.29" r="7.41" fill="#883adf"/>
<circle cx="653.6" cy="1229.29" r="4.31" fill="#b585ec"/>
<circle cx="741.6" cy="1229.29" r="6.38" fill="#b585ec"/>
<circle cx="829.6" cy="1229.29" r="3.10" fill="#c5a3f2"/>
<circle cx="917.6" cy="1229.29" r="2.41" fill="#ded6f9"/>
<circle cx="1005.6" cy="1229.29" r="5.86" fill="#bb8fee"/>
<circle cx="1093.6" cy="1229.29" r="7.41" fill="#d0b7f5"/>
<circle cx="213.6" cy="1248.96" r="2.15" fill="#dcd1f9"/>
<circle cx="301.6" cy="1248.96" r="2.15" fill="#ded6f9"/>
<circle cx="389.6" cy="1248.96" r="2.41" fill="#cbadf3"/>
<circle cx="477.6" cy="1248.96" r="3.45" fill="#9651e3"/>
<circle cx="565.6" cy="1248.96" r="4.48" fill="#883adf"/>
<circle cx="653.6" cy="1248.96" r="2.93" fill="#b88aed"/>
<circle cx="741.6" cy="1248.96" r="2.93" fill="#c5a3f2"/>
<circle cx="829.6" cy="1248.96" r="3.28" fill="#8f46e1"/>
<circle cx="917.6" cy="1248.96" r="2.24" fill="#cdb2f4"/>
<circle cx="1005.6" cy="1248.96" r="2.24" fill="#d9ccf8"/>
<circle cx="1093.6" cy="1248.96" r="5.69" fill="#c39ef1"/>
<circle cx="213.6" cy="1268.63" r="3.97" fill="#d7c7f7"/>
<circle cx="301.6" cy="1268.63" r="4.14" fill="#d9ccf8"/>
<circle cx="389.6" cy="1268.63" r="5.69" fill="#b585ec"/>
<circle cx="477.6" cy="1268.63" r="6.72" fill="#9c5ce5"/>
<circle cx="565.6" cy="1268.63" r="9.31" fill="#8f46e1"/>
<circle cx="653.6" cy="1268.63" r="6.55" fill="#ac76ea"/>
<circle cx="741.6" cy="1268.63" r="8.45" fill="#a971e9"/>
<circle cx="829.6" cy="1268.63" r="4.83" fill="#c39ef1"/>
<circle cx="917.6" cy="1268.63" r="3.62" fill="#d5c2f6"/>
<circle cx="1005.6" cy="1268.63" r="4.66" fill="#e9effd"/>
<circle cx="1093.6" cy="1268.63" r="10.34" fill="#a66ce8"/>
<circle cx="213.6" cy="1288.30" r="7.24" fill="#af7beb"/>
<circle cx="301.6" cy="1288.30" r="8.28" fill="#ac76ea"/>
<circle cx="389.6" cy="1288.30" r="3.79" fill="#c099f0"/>
<circle cx="477.6" cy="1288.30" r="5.00" fill="#bb8fee"/>
<circle cx="565.6" cy="1288.30" r="9.66" fill="#924ce2"/>
<circle cx="653.6" cy="1288.30" r="8.62" fill="#9957e4"/>
<circle cx="741.6" cy="1288.30" r="6.03" fill="#b280ec"/>
<circle cx="829.6" cy="1288.30" r="5.69" fill="#b280ec"/>
<circle cx="917.6" cy="1288.30" r="2.59" fill="#d9ccf8"/>
<circle cx="1005.6" cy="1288.30" r="2.15" fill="#e7eafc"/>
<circle cx="1093.6" cy="1288.30" r="2.15" fill="#e7eafc"/>
<circle cx="213.6" cy="1307.97" r="6.38" fill="#a971e9"/>
<circle cx="301.6" cy="1307.97" r="6.03" fill="#ac76ea"/>
<circle cx="389.6" cy="1307.97" r="5.34" fill="#ac76ea"/>
<circle cx="477.6" cy="1307.97" r="3.79" fill="#bd94ef"/>
<circle cx="565.6" cy="1307.97" r="10.00" fill="#8b40e0"/>
<circle cx="653.6" cy="1307.97" r="2.59" fill="#d0b7f5"/>
<circle cx="741.6" cy="1307.97" r="6.72" fill="#a971e9"/>
<circle cx="829.6" cy="1307.97" r="5.00" fill="#af7beb"/>
<circle cx="917.6" cy="1307.97" r="2.15" fill="#d2bcf6"/>
<circle cx="1005.6" cy="1307.97" r="2.15" fill="#e5e5fc"/>
<circle cx="1093.6" cy="1307.97" r="2.15" fill="#e5e5fc"/>
<circle cx="213.6" cy="1327.64" r="2.41" fill="#cdb2f4"/>
<circle cx="301.6" cy="1327.64" r="2.41" fill="#c8a8f2"/>
<circle cx="389.6" cy="1327.64" r="2.93" fill="#bb8fee"/>
<circle cx="477.6" cy="1327.64" r="4.31" fill="#9957e4"/>
<circle cx="565.6" cy="1327.64" r="6.21" fill="#7c25dc"/>
<circle cx="653.6" cy="1327.64" r="3.45" fill="#b585ec"/>
<circle cx="741.6" cy="1327.64" r="5.34" fill="#a367e7"/>
<circle cx="829.6" cy="1327.64" r="2.76" fill="#b280ec"/>
<circle cx="917.6" cy="1327.64" r="2.15" fill="#d7c7f7"/>
<circle cx="1005.6" cy="1327.64" r="2.59" fill="#d0b7f5"/>
<circle cx="1093.6" cy="1327.64" r="4.83" fill="#d9ccf8"/>
<circle cx="213.6" cy="1347.31" r="2.24" fill="#d7c7f7"/>
<circle cx="301.6" cy="1347.31" r="2.15" fill="#ded6f9"/>
<circle cx="389.6" cy="1347.31" r="2.59" fill="#bd94ef"/>
<circle cx="477.6" cy="1347.31" r="4.48" fill="#9651e3"/>
<circle cx="565.6" cy="1347.31" r="6.03" fill="#7c25dc"/>
<circle cx="653.6" cy="1347.31" r="3.62" fill="#af7beb"/>
<circle cx="741.6" cy="1347.31" r="4.14" fill="#b88aed"/>
<circle cx="829.6" cy="1347.31" r="2.93" fill="#a367e7"/>
<circle cx="917.6" cy="1347.31" r="2.24" fill="#d9ccf8"/>
<circle cx="1005.6" cy="1347.31" r="3.62" fill="#c5a3f2"/>
<circle cx="1093.6" cy="1347.31" r="2.93" fill="#d2bcf6"/>
<circle cx="213.6" cy="1366.98" r="2.24" fill="#c5a3f2"/>
<circle cx="301.6" cy="1366.98" r="2.15" fill="#cbadf3"/>
<circle cx="389.6" cy="1366.98" r="2.24" fill="#c5a3f2"/>
<circle cx="477.6" cy="1366.98" r="2.24" fill="#c8a8f2"/>
<circle cx="565.6" cy="1366.98" r="4.14" fill="#883adf"/>
<circle cx="653.6" cy="1366.98" r="2.59" fill="#cbadf3"/>
<circle cx="741.6" cy="1366.98" r="3.28" fill="#af7beb"/>
<circle cx="829.6" cy="1366.98" r="2.15" fill="#d7c7f7"/>
<circle cx="917.6" cy="1366.98" r="2.24" fill="#cdb2f4"/>
<circle cx="1005.6" cy="1366.98" r="2.93" fill="#cbadf3"/>
<circle cx="1093.6" cy="1366.98" r="5.00" fill="#7c25dc"/>
<circle cx="213.6" cy="1386.65" r="5.00" fill="#b585ec"/>
<circle cx="301.6" cy="1386.65" r="5.34" fill="#b585ec"/>
<circle cx="389.6" cy="1386.65" r="2.41" fill="#cdb2f4"/>
<circle cx="477.6" cy="1386.65" r="2.24" fill="#c5a3f2"/>
<circle cx="565.6" cy="1386.65" r="8.97" fill="#8f46e1"/>
<circle cx="653.6" cy="1386.65" r="6.72" fill="#8f46e1"/>
<circle cx="741.6" cy="1386.65" r="5.69" fill="#a971e9"/>
<circle cx="829.6" cy="1386.65" r="3.28" fill="#c099f0"/>
<circle cx="917.6" cy="1386.65" r="2.15" fill="#d9ccf8"/>
<circle cx="1005.6" cy="1386.65" r="2.15" fill="#d9ccf8"/>
<circle cx="1093.6" cy="1386.65" r="2.15" fill="#d9ccf8"/>
<circle cx="213.6" cy="1406.32" r="2.15" fill="#dcd1f9"/>
<circle cx="301.6" cy="1406.32" r="2.15" fill="#ded6f9"/>
<circle cx="389.6" cy="1406.32" r="2.24" fill="#c5a3f2"/>
<circle cx="477.6" cy="1406.32" r="2.93" fill="#a061e6"/>
<circle cx="565.6" cy="1406.32" r="4.14" fill="#781cdb"/>
<circle cx="653.6" cy="1406.32" r="2.59" fill="#b280ec"/>
<circle cx="741.6" cy="1406.32" r="3.28" fill="#bd94ef"/>
<circle cx="829.6" cy="1406.32" r="2.76" fill="#a367e7"/>
<circle cx="917.6" cy="1406.32" r="2.15" fill="#d5c2f6"/>
<circle cx="1005.6" cy="1406.32" r="2.24" fill="#d2bcf6"/>
<circle cx="1093.6" cy="1406.32" r="6.03" fill="#b88aed"/>
<circle cx="213.6" cy="1425.99" r="2.24" fill="#bb8fee"/>
<circle cx="301.6" cy="1425.99" r="3.10" fill="#a66ce8"/>
<circle cx="389.6" cy="1425.99" r="2.15" fill="#d7c7f7"/>
<circle cx="477.6" cy="1425.99" r="4.66" fill="#9651e3"/>
<circle cx="565.6" cy="1425.99" r="2.41" fill="#c39ef1"/>
<circle cx="653.6" cy="1425.99" r="6.03" fill="#7c25dc"/>
<circle cx="741.6" cy="1425.99" r="2.15" fill="#d5c2f6"/>
<circle cx="829.6" cy="1425.99" r="3.10" fill="#a66ce8"/>
<circle cx="917.6" cy="1425.99" r="2.15" fill="#d0b7f5"/>
<circle cx="1005.6" cy="1425.99" r="2.15" fill="#d9ccf8"/>
<circle cx="1093.6" cy="1425.99" r="2.15" fill="#d9ccf8"/>
<circle cx="213.6" cy="1445.66" r="2.15" fill="#d2bcf6"/>
<circle cx="301.6" cy="1445.66" r="2.24" fill="#c39ef1"/>
<circle cx="389.6" cy="1445.66" r="2.24" fill="#c5a3f2"/>
<circle cx="477.6" cy="1445.66" r="4.31" fill="#8b40e0"/>
<circle cx="565.6" cy="1445.66" r="2.59" fill="#c099f0"/>
<circle cx="653.6" cy="1445.66" r="4.31" fill="#8b40e0"/>
<circle cx="741.6" cy="1445.66" r="2.41" fill="#d0b7f5"/>
<circle cx="829.6" cy="1445.66" r="2.59" fill="#a971e9"/>
<circle cx="917.6" cy="1445.66" r="2.93" fill="#9957e4"/>
<circle cx="1005.6" cy="1445.66" r="2.15" fill="#e0dbfa"/>
<circle cx="1093.6" cy="1445.66" r="2.15" fill="#e0dbfa"/>
<circle cx="213.6" cy="1465.33" r="2.15" fill="#d0b7f5"/>
<circle cx="301.6" cy="1465.33" r="2.15" fill="#d2bcf6"/>
<circle cx="389.6" cy="1465.33" r="2.41" fill="#c5a3f2"/>
<circle cx="477.6" cy="1465.33" r="5.00" fill="#9c5ce5"/>
<circle cx="565.6" cy="1465.33" r="2.24" fill="#d2bcf6"/>
<circle cx="653.6" cy="1465.33" r="5.86" fill="#924ce2"/>
<circle cx="741.6" cy="1465.33" r="3.79" fill="#b88aed"/>
<circle cx="829.6" cy="1465.33" r="2.41" fill="#c5a3f2"/>
<circle cx="917.6" cy="1465.33" r="6.21" fill="#7c25dc"/>
<circle cx="1005.6" cy="1465.33" r="2.24" fill="#d2bcf6"/>
<circle cx="1093.6" cy="1465.33" r="5.17" fill="#c8a8f2"/>
<circle cx="213.6" cy="1484.99" r="2.15" fill="#d0b7f5"/>
<circle cx="301.6" cy="1484.99" r="2.41" fill="#b88aed"/>
<circle cx="389.6" cy="1484.99" r="2.15" fill="#d5c2f6"/>
<circle cx="477.6" cy="1484.99" r="4.66" fill="#802ddd"/>
<circle cx="565.6" cy="1484.99" r="2.15" fill="#d2bcf6"/>
<circle cx="653.6" cy="1484.99" r="3.62" fill="#9957e4"/>
<circle cx="741.6" cy="1484.99" r="2.76" fill="#cbadf3"/>
<circle cx="829.6" cy="1484.99" r="2.76" fill="#ac76ea"/>
<circle cx="917.6" cy="1484.99" r="2.93" fill="#af7beb"/>
<circle cx="1005.6" cy="1484.99" r="4.66" fill="#ac76ea"/>
<circle cx="1093.6" cy="1484.99" r="2.15" fill="#e7eafc"/>
<circle cx="213.6" cy="1504.66" r="3.28" fill="#c8a8f2"/>
<circle cx="301.6" cy="1504.66" r="3.28" fill="#c8a8f2"/>
<circle cx="389.6" cy="1504.66" r="4.14" fill="#c5a3f2"/>
<circle cx="477.6" cy="1504.66" r="9.31" fill="#9957e4"/>
<circle cx="565.6" cy="1504.66" r="2.59" fill="#d2bcf6"/>
<circle cx="653.6" cy="1504.66" r="8.28" fill="#a061e6"/>
<circle cx="741.6" cy="1504.66" r="3.28" fill="#cdb2f4"/>
<circle cx="829.6" cy="1504.66" r="4.66" fill="#ac76ea"/>
<circle cx="917.6" cy="1504.66" r="9.66" fill="#8f46e1"/>
<circle cx="1005.6" cy="1504.66" r="2.24" fill="#ded6f9"/>
<circle cx="1093.6" cy="1504.66" r="2.93" fill="#e0dbfa"/>
<circle cx="213.6" cy="1524.33" r="2.15" fill="#e3e0fb"/>
<circle cx="301.6" cy="1524.33" r="2.76" fill="#b88aed"/>
<circle cx="389.6" cy="1524.33" r="2.15" fill="#dcd1f9"/>
<circle cx="477.6" cy="1524.33" r="4.14" fill="#8f46e1"/>
<circle cx="565.6" cy="1524.33" r="2.24" fill="#d7c7f7"/>
<circle cx="653.6" cy="1524.33" r="2.41" fill="#bd94ef"/>
<circle cx="741.6" cy="1524.33" r="4.48" fill="#a971e9"/>
<circle cx="829.6" cy="1524.33" r="2.59" fill="#ac76ea"/>
<circle cx="917.6" cy="1524.33" r="3.10" fill="#b280ec"/>
<circle cx="1005.6" cy="1524.33" r="6.03" fill="#9651e3"/>
<circle cx="1093.6" cy="1524.33" r="4.83" fill="#d5c2f6"/>
<circle cx="213.6" cy="1544.00" r="2.15" fill="#d0b7f5"/>
<circle cx="301.6" cy="1544.00" r="2.15" fill="#d0b7f5"/>
<circle cx="389.6" cy="1544.00" r="2.24" fill="#c099f0"/>
<circle cx="477.6" cy="1544.00" r="4.14" fill="#924ce2"/>
<circle cx="565.6" cy="1544.00" r="2.15" fill="#d0b7f5"/>
<circle cx="653.6" cy="1544.00" r="5.34" fill="#781cdb"/>
<circle cx="741.6" cy="1544.00" r="3.45" fill="#b280ec"/>
<circle cx="829.6" cy="1544.00" r="2.24" fill="#c099f0"/>
<circle cx="917.6" cy="1544.00" r="2.59" fill="#af7beb"/>
<circle cx="1005.6" cy="1544.00" r="2.15" fill="#d5c2f6"/>
<circle cx="1093.6" cy="1544.00" r="2.15" fill="#d5c2f6"/>
<circle cx="213.6" cy="1563.67" r="3.10" fill="#c39ef1"/>
<circle cx="301.6" cy="1563.67" r="2.59" fill="#cbadf3"/>
<circle cx="389.6" cy="1563.67" r="2.76" fill="#cbadf3"/>
<circle cx="477.6" cy="1563.67" r="7.24" fill="#8f46e1"/>
<circle cx="565.6" cy="1563.67" r="3.10" fill="#c8a8f2"/>
<circle cx="653.6" cy="1563.67" r="8.10" fill="#802ddd"/>
<circle cx="741.6" cy="1563.67" r="3.45" fill="#cbadf3"/>
<circle cx="829.6" cy="1563.67" r="3.79" fill="#ac76ea"/>
<circle cx="917.6" cy="1563.67" r="2.15" fill="#dcd1f9"/>
<circle cx="1005.6" cy="1563.67" r="2.15" fill="#dcd1f9"/>
<circle cx="1093.6" cy="1563.67" r="6.55" fill="#c5a3f2"/>
<circle cx="213.6" cy="1583.34" r="2.15" fill="#c099f0"/>
<circle cx="301.6" cy="1583.34" r="2.15" fill="#cbadf3"/>
<circle cx="389.6" cy="1583.34" r="2.41" fill="#bb8fee"/>
<circle cx="477.6" cy="1583.34" r="5.00" fill="#924ce2"/>
<circle cx="565.6" cy="1583.34" r="2.15" fill="#d0b7f5"/>
<circle cx="653.6" cy="1583.34" r="2.15" fill="#d0b7f5"/>
<circle cx="741.6" cy="1583.34" r="2.41" fill="#c39ef1"/>
<circle cx="829.6" cy="1583.34" r="2.59" fill="#a971e9"/>
<circle cx="917.6" cy="1583.34" r="5.86" fill="#7411da"/>
<circle cx="1005.6" cy="1583.34" r="2.15" fill="#d0b7f5"/>
<circle cx="1093.6" cy="1583.34" r="2.15" fill="#cbadf3"/>
<circle cx="213.6" cy="1603.01" r="2.15" fill="#c5a3f2"/>
<circle cx="301.6" cy="1603.01" r="2.15" fill="#c5a3f2"/>
<circle cx="389.6" cy="1603.01" r="2.15" fill="#cbadf3"/>
<circle cx="477.6" cy="1603.01" r="5.52" fill="#7000d9"/>
<circle cx="565.6" cy="1603.01" r="2.15" fill="#d0b7f5"/>
<circle cx="653.6" cy="1603.01" r="2.76" fill="#af7beb"/>
<circle cx="741.6" cy="1603.01" r="2.15" fill="#cdb2f4"/>
<circle cx="829.6" cy="1603.01" r="2.41" fill="#a971e9"/>
<circle cx="917.6" cy="1603.01" r="2.15" fill="#d0b7f5"/>
<circle cx="1005.6" cy="1603.01" r="3.28" fill="#ac76ea"/>
<circle cx="1093.6" cy="1603.01" r="2.15" fill="#cbadf3"/>
<circle cx="213.6" cy="1622.68" r="4.31" fill="#c8a8f2"/>
<circle cx="301.6" cy="1622.68" r="2.24" fill="#e7eafc"/>
<circle cx="389.6" cy="1622.68" r="8.62" fill="#9651e3"/>
<circle cx="477.6" cy="1622.68" r="6.55" fill="#b88aed"/>
<circle cx="565.6" cy="1622.68" r="3.62" fill="#cdb2f4"/>
<circle cx="653.6" cy="1622.68" r="4.66" fill="#bb8fee"/>
<circle cx="741.6" cy="1622.68" r="5.34" fill="#bb8fee"/>
<circle cx="829.6" cy="1622.68" r="5.34" fill="#b88aed"/>
<circle cx="917.6" cy="1622.68" r="9.48" fill="#a061e6"/>
<circle cx="1005.6" cy="1622.68" r="9.14" fill="#a367e7"/>
<circle cx="1093.6" cy="1622.68" r="3.45" fill="#f0feff"/>
<circle cx="213.6" cy="1642.35" r="3.28" fill="#bb8fee"/>
<circle cx="301.6" cy="1642.35" r="2.15" fill="#ded6f9"/>
<circle cx="389.6" cy="1642.35" r="6.55" fill="#8434de"/>
<circle cx="477.6" cy="1642.35" r="2.59" fill="#c8a8f2"/>
<circle cx="565.6" cy="1642.35" r="3.45" fill="#c099f0"/>
<circle cx="653.6" cy="1642.35" r="2.93" fill="#b280ec"/>
<circle cx="741.6" cy="1642.35" r="4.48" fill="#bb8fee"/>
<circle cx="829.6" cy="1642.35" r="3.28" fill="#ac76ea"/>
<circle cx="917.6" cy="1642.35" r="5.17" fill="#924ce2"/>
<circle cx="1005.6" cy="1642.35" r="2.15" fill="#e3e0fb"/>
<circle cx="1093.6" cy="1642.35" r="2.15" fill="#e0dbfa"/>
<circle cx="213.6" cy="1662.02" r="2.24" fill="#c39ef1"/>
<circle cx="301.6" cy="1662.02" r="2.15" fill="#d7c7f7"/>
<circle cx="389.6" cy="1662.02" r="4.31" fill="#7411da"/>
<circle cx="477.6" cy="1662.02" r="2.41" fill="#af7beb"/>
<circle cx="565.6" cy="1662.02" r="2.41" fill="#bd94ef"/>
<circle cx="653.6" cy="1662.02" r="2.15" fill="#d2bcf6"/>
<circle cx="741.6" cy="1662.02" r="3.45" fill="#b280ec"/>
<circle cx="829.6" cy="1662.02" r="2.41" fill="#af7beb"/>
<circle cx="917.6" cy="1662.02" r="2.41" fill="#9651e3"/>
<circle cx="1005.6" cy="1662.02" r="2.15" fill="#dcd1f9"/>
<circle cx="1093.6" cy="1662.02" r="2.15" fill="#d7c7f7"/>
<circle cx="213.6" cy="1681.69" r="2.93" fill="#c099f0"/>
<circle cx="301.6" cy="1681.69" r="2.41" fill="#d0b7f5"/>
<circle cx="389.6" cy="1681.69" r="5.86" fill="#8434de"/>
<circle cx="477.6" cy="1681.69" r="2.15" fill="#d9ccf8"/>
<circle cx="565.6" cy="1681.69" r="3.28" fill="#c8a8f2"/>
<circle cx="653.6" cy="1681.69" r="2.15" fill="#dcd1f9"/>
<circle cx="741.6" cy="1681.69" r="4.48" fill="#bd94ef"/>
<circle cx="829.6" cy="1681.69" r="3.10" fill="#ac76ea"/>
<circle cx="917.6" cy="1681.69" r="2.59" fill="#af7beb"/>
<circle cx="1005.6" cy="1681.69" r="7.59" fill="#9651e3"/>
<circle cx="1093.6" cy="1681.69" r="2.93" fill="#d7c7f7"/>
<circle cx="213.6" cy="1701.36" r="2.41" fill="#bd94ef"/>
<circle cx="301.6" cy="1701.36" r="2.15" fill="#d9ccf8"/>
<circle cx="389.6" cy="1701.36" r="6.03" fill="#883adf"/>
<circle cx="477.6" cy="1701.36" r="2.41" fill="#bd94ef"/>
<circle cx="565.6" cy="1701.36" r="2.24" fill="#c8a8f2"/>
<circle cx="653.6" cy="1701.36" r="2.15" fill="#cdb2f4"/>
<circle cx="741.6" cy="1701.36" r="4.31" fill="#b280ec"/>
<circle cx="829.6" cy="1701.36" r="2.41" fill="#bb8fee"/>
<circle cx="917.6" cy="1701.36" r="5.34" fill="#802ddd"/>
<circle cx="1005.6" cy="1701.36" r="2.15" fill="#d9ccf8"/>
<circle cx="1093.6" cy="1701.36" r="2.15" fill="#d0b7f5"/>
<circle cx="213.6" cy="1721.03" r="2.15" fill="#cbadf3"/>
<circle cx="301.6" cy="1721.03" r="2.15" fill="#d9ccf8"/>
<circle cx="389.6" cy="1721.03" r="7.24" fill="#8b40e0"/>
<circle cx="477.6" cy="1721.03" r="2.15" fill="#d7c7f7"/>
<circle cx="565.6" cy="1721.03" r="2.24" fill="#cbadf3"/>
<circle cx="653.6" cy="1721.03" r="2.15" fill="#d2bcf6"/>
<circle cx="741.6" cy="1721.03" r="3.62" fill="#b585ec"/>
<circle cx="829.6" cy="1721.03" r="2.59" fill="#bb8fee"/>
<circle cx="917.6" cy="1721.03" r="5.69" fill="#9957e4"/>
<circle cx="1005.6" cy="1721.03" r="2.15" fill="#dcd1f9"/>
<circle cx="1093.6" cy="1721.03" r="9.66" fill="#9651e3"/>
<circle cx="213.6" cy="1740.70" r="2.15" fill="#c39ef1"/>
<circle cx="301.6" cy="1740.70" r="2.15" fill="#d2bcf6"/>
<circle cx="389.6" cy="1740.70" r="4.66" fill="#8434de"/>
<circle cx="477.6" cy="1740.70" r="2.15" fill="#d2bcf6"/>
<circle cx="565.6" cy="1740.70" r="2.15" fill="#cbadf3"/>
<circle cx="653.6" cy="1740.70" r="2.15" fill="#c5a3f2"/>
<circle cx="741.6" cy="1740.70" r="2.41" fill="#ac76ea"/>
<circle cx="829.6" cy="1740.70" r="2.15" fill="#c8a8f2"/>
<circle cx="917.6" cy="1740.70" r="4.31" fill="#883adf"/>
<circle cx="1005.6" cy="1740.70" r="2.15" fill="#d2bcf6"/>
<circle cx="1093.6" cy="1740.70" r="2.15" fill="#cdb2f4"/>
<circle cx="213.6" cy="1760.37" r="2.24" fill="#bb8fee"/>
<circle cx="301.6" cy="1760.37" r="2.15" fill="#d5c2f6"/>
<circle cx="389.6" cy="1760.37" r="4.66" fill="#7411da"/>
<circle cx="477.6" cy="1760.37" r="2.15" fill="#d5c2f6"/>
<circle cx="565.6" cy="1760.37" r="2.15" fill="#cdb2f4"/>
<circle cx="653.6" cy="1760.37" r="2.15" fill="#b585ec"/>
<circle cx="741.6" cy="1760.37" r="2.59" fill="#b280ec"/>
<circle cx="829.6" cy="1760.37" r="2.15" fill="#c39ef1"/>
<circle cx="917.6" cy="1760.37" r="2.41" fill="#9651e3"/>
<circle cx="1005.6" cy="1760.37" r="2.15" fill="#d2bcf6"/>
<circle cx="1093.6" cy="1760.37" r="2.15" fill="#d0b7f5"/>
<circle cx="213.6" cy="1780.04" r="3.79" fill="#bd94ef"/>
<circle cx="301.6" cy="1780.04" r="2.15" fill="#dcd1f9"/>
<circle cx="389.6" cy="1780.04" r="9.14" fill="#7411da"/>
<circle cx="477.6" cy="1780.04" r="2.15" fill="#d7c7f7"/>
<circle cx="565.6" cy="1780.04" r="3.10" fill="#c39ef1"/>
<circle cx="653.6" cy="1780.04" r="2.93" fill="#c39ef1"/>
<circle cx="741.6" cy="1780.04" r="3.97" fill="#a971e9"/>
<circle cx="829.6" cy="1780.04" r="3.28" fill="#a66ce8"/>
<circle cx="917.6" cy="1780.04" r="3.10" fill="#af7beb"/>
<circle cx="1005.6" cy="1780.04" r="2.15" fill="#dcd1f9"/>
<circle cx="1093.6" cy="1780.04" r="6.55" fill="#c8a8f2"/>
<circle cx="213.6" cy="1799.71" r="2.15" fill="#d0b7f5"/>
<circle cx="301.6" cy="1799.71" r="2.15" fill="#cdb2f4"/>
<circle cx="389.6" cy="1799.71" r="5.17" fill="#7411da"/>
<circle cx="477.6" cy="1799.71" r="2.15" fill="#c5a3f2"/>
<circle cx="565.6" cy="1799.71" r="2.15" fill="#cdb2f4"/>
<circle cx="653.6" cy="1799.71" r="3.10" fill="#a971e9"/>
<circle cx="741.6" cy="1799.71" r="2.59" fill="#a971e9"/>
<circle cx="829.6" cy="1799.71" r="2.41" fill="#9957e4"/>
<circle cx="917.6" cy="1799.71" r="2.15" fill="#cbadf3"/>
<circle cx="1005.6" cy="1799.71" r="2.15" fill="#d2bcf6"/>
<circle cx="1093.6" cy="1799.71" r="2.15" fill="#cbadf3"/>
<circle cx="213.6" cy="1819.38" r="2.76" fill="#ac76ea"/>
<circle cx="301.6" cy="1819.38" r="4.48" fill="#924ce2"/>
<circle cx="389.6" cy="1819.38" r="2.15" fill="#d5c2f6"/>
<circle cx="477.6" cy="1819.38" r="2.15" fill="#d5c2f6"/>
<circle cx="565.6" cy="1819.38" r="3.62" fill="#a061e6"/>
<circle cx="653.6" cy="1819.38" r="3.62" fill="#8f46e1"/>
<circle cx="741.6" cy="1819.38" r="2.59" fill="#bd94ef"/>
<circle cx="829.6" cy="1819.38" r="2.76" fill="#a971e9"/>
<circle cx="917.6" cy="1819.38" r="2.15" fill="#dcd1f9"/>
<circle cx="1005.6" cy="1819.38" r="2.15" fill="#d9ccf8"/>
<circle cx="1093.6" cy="1819.38" r="2.15" fill="#d7c7f7"/>
<circle cx="213.6" cy="1839.05" r="2.93" fill="#af7beb"/>
<circle cx="301.6" cy="1839.05" r="4.31" fill="#9957e4"/>
<circle cx="389.6" cy="1839.05" r="2.15" fill="#d5c2f6"/>
<circle cx="477.6" cy="1839.05" r="2.15" fill="#d0b7f5"/>
<circle cx="565.6" cy="1839.05" r="3.10" fill="#b280ec"/>
<circle cx="653.6" cy="1839.05" r="2.15" fill="#d0b7f5"/>
<circle cx="741.6" cy="1839.05" r="2.76" fill="#c39ef1"/>
<circle cx="829.6" cy="1839.05" r="2.59" fill="#af7beb"/>
<circle cx="917.6" cy="1839.05" r="2.15" fill="#d7c7f7"/>
<circle cx="1005.6" cy="1839.05" r="7.59" fill="#781cdb"/>
<circle cx="1093.6" cy="1839.05" r="2.15" fill="#d0b7f5"/>
<circle cx="213.6" cy="1858.71" r="5.34" fill="#9651e3"/>
<circle cx="301.6" cy="1858.71" r="6.90" fill="#802ddd"/>
<circle cx="389.6" cy="1858.71" r="2.41" fill="#d2bcf6"/>
<circle cx="477.6" cy="1858.71" r="3.10" fill="#c39ef1"/>
<circle cx="565.6" cy="1858.71" r="5.34" fill="#a66ce8"/>
<circle cx="653.6" cy="1858.71" r="2.59" fill="#bd94ef"/>
<circle cx="741.6" cy="1858.71" r="4.14" fill="#bb8fee"/>
<circle cx="829.6" cy="1858.71" r="3.45" fill="#a061e6"/>
<circle cx="917.6" cy="1858.71" r="2.15" fill="#d7c7f7"/>
<circle cx="1005.6" cy="1858.71" r="2.15" fill="#dcd1f9"/>
<circle cx="1093.6" cy="1858.71" r="2.41" fill="#d9ccf8"/>
<circle cx="213.6" cy="1878.38" r="2.41" fill="#cbadf3"/>
<circle cx="301.6" cy="1878.38" r="4.66" fill="#7000d9"/>
<circle cx="389.6" cy="1878.38" r="2.41" fill="#d0b7f5"/>
<circle cx="477.6" cy="1878.38" r="3.28" fill="#b585ec"/>
<circle cx="565.6" cy="1878.38" r="3.45" fill="#af7beb"/>
<circle cx="653.6" cy="1878.38" r="2.93" fill="#bb8fee"/>
<circle cx="741.6" cy="1878.38" r="3.97" fill="#c5a3f2"/>
<circle cx="829.6" cy="1878.38" r="2.76" fill="#a971e9"/>
<circle cx="917.6" cy="1878.38" r="2.76" fill="#a66ce8"/>
<circle cx="1005.6" cy="1878.38" r="2.15" fill="#eef9fe"/>
<circle cx="1093.6" cy="1878.38" r="6.55" fill="#c5a3f2"/>
<circle cx="213.6" cy="1898.05" r="5.34" fill="#a971e9"/>
<circle cx="301.6" cy="1898.05" r="8.45" fill="#8434de"/>
<circle cx="389.6" cy="1898.05" r="2.24" fill="#d7c7f7"/>
<circle cx="477.6" cy="1898.05" r="3.97" fill="#b88aed"/>
<circle cx="565.6" cy="1898.05" r="6.03" fill="#a971e9"/>
<circle cx="653.6" cy="1898.05" r="5.86" fill="#a971e9"/>
<circle cx="741.6" cy="1898.05" r="4.48" fill="#b88aed"/>
<circle cx="829.6" cy="1898.05" r="4.66" fill="#a971e9"/>
<circle cx="917.6" cy="1898.05" r="2.15" fill="#e3e0fb"/>
<circle cx="1005.6" cy="1898.05" r="2.93" fill="#d5c2f6"/>
<circle cx="1093.6" cy="1898.05" r="2.15" fill="#e3e0fb"/>
<circle cx="213.6" cy="1917.72" r="3.62" fill="#b88aed"/>
<circle cx="301.6" cy="1917.72" r="7.76" fill="#8434de"/>
<circle cx="389.6" cy="1917.72" r="3.45" fill="#b585ec"/>
<circle cx="477.6" cy="1917.72" r="2.24" fill="#dcd1f9"/>
<circle cx="565.6" cy="1917.72" r="6.21" fill="#924ce2"/>
<circle cx="653.6" cy="1917.72" r="2.59" fill="#d0b7f5"/>
<circle cx="741.6" cy="1917.72" r="3.79" fill="#b585ec"/>
<circle cx="829.6" cy="1917.72" r="3.79" fill="#a971e9"/>
<circle cx="917.6" cy="1917.72" r="2.15" fill="#e0dbfa"/>
<circle cx="1005.6" cy="1917.72" r="2.15" fill="#ded6f9"/>
<circle cx="1093.6" cy="1917.72" r="6.55" fill="#bb8fee"/>
<circle cx="213.6" cy="1937.39" r="2.15" fill="#c5a3f2"/>
<circle cx="301.6" cy="1937.39" r="4.14" fill="#883adf"/>
<circle cx="389.6" cy="1937.39" r="2.15" fill="#d7c7f7"/>
<circle cx="477.6" cy="1937.39" r="2.41" fill="#b88aed"/>
<circle cx="565.6" cy="1937.39" r="3.10" fill="#a061e6"/>
<circle cx="653.6" cy="1937.39" r="4.48" fill="#8f46e1"/>
<circle cx="741.6" cy="1937.39" r="2.59" fill="#c5a3f2"/>
<circle cx="829.6" cy="1937.39" r="2.24" fill="#a061e6"/>
<circle cx="917.6" cy="1937.39" r="2.15" fill="#d7c7f7"/>
<circle cx="1005.6" cy="1937.39" r="2.15" fill="#d7c7f7"/>
<circle cx="1093.6" cy="1937.39" r="2.15" fill="#d2bcf6"/>
<circle cx="213.6" cy="1957.06" r="2.93" fill="#a66ce8"/>
<circle cx="301.6" cy="1957.06" r="5.69" fill="#7c25dc"/>
<circle cx="389.6" cy="1957.06" r="2.15" fill="#d2bcf6"/>
<circle cx="477.6" cy="1957.06" r="2.15" fill="#d5c2f6"/>
<circle cx="565.6" cy="1957.06" r="3.97" fill="#a367e7"/>
<circle cx="653.6" cy="1957.06" r="3.10" fill="#af7beb"/>
<circle cx="741.6" cy="1957.06" r="2.41" fill="#c8a8f2"/>
<circle cx="829.6" cy="1957.06" r="2.76" fill="#a061e6"/>
<circle cx="917.6" cy="1957.06" r="2.15" fill="#d9ccf8"/>
<circle cx="1005.6" cy="1957.06" r="2.15" fill="#d5c2f6"/>
<circle cx="1093.6" cy="1957.06" r="2.15" fill="#d5c2f6"/>
<circle cx="213.6" cy="1976.73" r="2.15" fill="#cdb2f4"/>
<circle cx="301.6" cy="1976.73" r="4.48" fill="#802ddd"/>
<circle cx="389.6" cy="1976.73" r="2.15" fill="#d2bcf6"/>
<circle cx="477.6" cy="1976.73" r="3.62" fill="#8f46e1"/>
<circle cx="565.6" cy="1976.73" r="2.41" fill="#b585ec"/>
<circle cx="653.6" cy="1976.73" r="3.28" fill="#9c5ce5"/>
<circle cx="741.6" cy="1976.73" r="2.15" fill="#cbadf3"/>
<circle cx="829.6" cy="1976.73" r="2.41" fill="#a061e6"/>
<circle cx="917.6" cy="1976.73" r="2.15" fill="#d7c7f7"/>
<circle cx="1005.6" cy="1976.73" r="2.15" fill="#d5c2f6"/>
<circle cx="1093.6" cy="1976.73" r="2.15" fill="#d0b7f5"/>
<circle cx="213.6" cy="1996.40" r="3.28" fill="#b585ec"/>
<circle cx="301.6" cy="1996.40" r="7.24" fill="#802ddd"/>
<circle cx="389.6" cy="1996.40" r="2.15" fill="#d9ccf8"/>
<circle cx="477.6" cy="1996.40" r="2.24" fill="#d0b7f5"/>
<circle cx="565.6" cy="1996.40" r="4.48" fill="#ac76ea"/>
<circle cx="653.6" cy="1996.40" r="5.86" fill="#8f46e1"/>
<circle cx="741.6" cy="1996.40" r="3.45" fill="#b585ec"/>
<circle cx="829.6" cy="1996.40" r="3.45" fill="#ac76ea"/>
<circle cx="917.6" cy="1996.40" r="2.15" fill="#d9ccf8"/>
<circle cx="1005.6" cy="1996.40" r="2.15" fill="#d7c7f7"/>
<circle cx="1093.6" cy="1996.40" r="2.15" fill="#d7c7f7"/>
<circle cx="213.6" cy="2016.07" r="9.66" fill="#a061e6"/>
<circle cx="301.6" cy="2016.07" r="9.14" fill="#a971e9"/>
<circle cx="389.6" cy="2016.07" r="3.45" fill="#c39ef1"/>
<circle cx="477.6" cy="2016.07" r="7.24" fill="#af7beb"/>
<circle cx="565.6" cy="2016.07" r="9.66" fill="#a061e6"/>
<circle cx="653.6" cy="2016.07" r="3.28" fill="#cdb2f4"/>
<circle cx="741.6" cy="2016.07" r="6.03" fill="#ac76ea"/>
<circle cx="829.6" cy="2016.07" r="7.59" fill="#a367e7"/>
<circle cx="917.6" cy="2016.07" r="3.45" fill="#c8a8f2"/>
<circle cx="1005.6" cy="2016.07" r="2.15" fill="#e9effd"/>
<circle cx="1093.6" cy="2016.07" r="2.15" fill="#e9effd"/>
<circle cx="213.6" cy="2035.74" r="8.79" fill="#9c5ce5"/>
<circle cx="301.6" cy="2035.74" r="8.28" fill="#a66ce8"/>
<circle cx="389.6" cy="2035.74" r="6.55" fill="#a66ce8"/>
<circle cx="477.6" cy="2035.74" r="2.24" fill="#d9ccf8"/>
<circle cx="565.6" cy="2035.74" r="9.31" fill="#9c5ce5"/>
<circle cx="653.6" cy="2035.74" r="3.62" fill="#bd94ef"/>
<circle cx="741.6" cy="2035.74" r="5.69" fill="#b88aed"/>
<circle cx="829.6" cy="2035.74" r="6.55" fill="#a061e6"/>
<circle cx="917.6" cy="2035.74" r="2.15" fill="#ded6f9"/>
<circle cx="1005.6" cy="2035.74" r="2.15" fill="#e3e0fb"/>
<circle cx="1093.6" cy="2035.74" r="2.15" fill="#e0dbfa"/>
<circle cx="213.6" cy="2055.41" r="8.97" fill="#9c5ce5"/>
<circle cx="301.6" cy="2055.41" r="7.93" fill="#a971e9"/>
<circle cx="389.6" cy="2055.41" r="7.41" fill="#a66ce8"/>
<circle cx="477.6" cy="2055.41" r="6.03" fill="#c099f0"/>
<circle cx="565.6" cy="2055.41" r="7.24" fill="#b280ec"/>
<circle cx="653.6" cy="2055.41" r="6.55" fill="#b585ec"/>
<circle cx="741.6" cy="2055.41" r="7.07" fill="#b585ec"/>
<circle cx="829.6" cy="2055.41" r="5.69" fill="#b280ec"/>
<circle cx="917.6" cy="2055.41" r="5.69" fill="#b280ec"/>
<circle cx="1005.6" cy="2055.41" r="2.15" fill="#eef9fe"/>
<circle cx="1093.6" cy="2055.41" r="2.15" fill="#eef9fe"/>
<circle cx="213.6" cy="2075.08" r="4.83" fill="#9957e4"/>
<circle cx="301.6" cy="2075.08" r="2.59" fill="#d2bcf6"/>
<circle cx="389.6" cy="2075.08" r="4.66" fill="#9651e3"/>
<circle cx="477.6" cy="2075.08" r="2.76" fill="#d0b7f5"/>
<circle cx="565.6" cy="2075.08" r="3.28" fill="#bd94ef"/>
<circle cx="653.6" cy="2075.08" r="3.79" fill="#a971e9"/>
<circle cx="741.6" cy="2075.08" r="3.97" fill="#c8a8f2"/>
<circle cx="829.6" cy="2075.08" r="2.93" fill="#b280ec"/>
<circle cx="917.6" cy="2075.08" r="4.66" fill="#8f46e1"/>
<circle cx="1005.6" cy="2075.08" r="2.15" fill="#eef9fe"/>
<circle cx="1093.6" cy="2075.08" r="6.03" fill="#cdb2f4"/>
<circle cx="213.6" cy="2094.75" r="4.66" fill="#883adf"/>
<circle cx="301.6" cy="2094.75" r="2.59" fill="#d0b7f5"/>
<circle cx="389.6" cy="2094.75" r="4.83" fill="#883adf"/>
<circle cx="477.6" cy="2094.75" r="2.76" fill="#cdb2f4"/>
<circle cx="565.6" cy="2094.75" r="3.28" fill="#bd94ef"/>
<circle cx="653.6" cy="2094.75" r="2.59" fill="#cbadf3"/>
<circle cx="741.6" cy="2094.75" r="4.14" fill="#c39ef1"/>
<circle cx="829.6" cy="2094.75" r="2.59" fill="#b88aed"/>
<circle cx="917.6" cy="2094.75" r="3.79" fill="#9651e3"/>
<circle cx="1005.6" cy="2094.75" r="3.45" fill="#d5c2f6"/>
<circle cx="1093.6" cy="2094.75" r="6.03" fill="#d2bcf6"/>
<circle cx="213.6" cy="2114.42" r="4.14" fill="#9c5ce5"/>
<circle cx="301.6" cy="2114.42" r="2.24" fill="#d2bcf6"/>
<circle cx="389.6" cy="2114.42" r="4.14" fill="#a061e6"/>
<circle cx="477.6" cy="2114.42" r="2.24" fill="#d2bcf6"/>
<circle cx="565.6" cy="2114.42" r="3.97" fill="#ac76ea"/>
<circle cx="653.6" cy="2114.42" r="2.15" fill="#dcd1f9"/>
<circle cx="741.6" cy="2114.42" r="4.66" fill="#b280ec"/>
<circle cx="829.6" cy="2114.42" r="2.76" fill="#a66ce8"/>
<circle cx="917.6" cy="2114.42" r="3.62" fill="#a367e7"/>
<circle cx="1005.6" cy="2114.42" r="5.86" fill="#a061e6"/>
<circle cx="1093.6" cy="2114.42" r="2.15" fill="#e7eafc"/>
<circle cx="213.6" cy="2134.09" r="5.69" fill="#8f46e1"/>
<circle cx="301.6" cy="2134.09" r="2.76" fill="#d7c7f7"/>
<circle cx="389.6" cy="2134.09" r="5.00" fill="#a061e6"/>
<circle cx="477.6" cy="2134.09" r="2.41" fill="#e0dbfa"/>
<circle cx="565.6" cy="2134.09" r="4.66" fill="#af7beb"/>
<circle cx="653.6" cy="2134.09" r="2.59" fill="#d9ccf8"/>
<circle cx="741.6" cy="2134.09" r="5.34" fill="#c099f0"/>
<circle cx="829.6" cy="2134.09" r="3.45" fill="#b88aed"/>
<circle cx="917.6" cy="2134.09" r="4.31" fill="#ac76ea"/>
<circle cx="1005.6" cy="2134.09" r="7.24" fill="#9651e3"/>
<circle cx="1093.6" cy="2134.09" r="6.90" fill="#cbadf3"/>
<circle cx="213.6" cy="2153.76" r="7.24" fill="#8b40e0"/>
<circle cx="301.6" cy="2153.76" r="5.69" fill="#a66ce8"/>
<circle cx="389.6" cy="2153.76" r="4.66" fill="#ac76ea"/>
<circle cx="477.6" cy="2153.76" r="2.59" fill="#d5c2f6"/>
<circle cx="565.6" cy="2153.76" r="5.17" fill="#af7beb"/>
<circle cx="653.6" cy="2153.76" r="2.24" fill="#d5c2f6"/>
<circle cx="741.6" cy="2153.76" r="4.14" fill="#c39ef1"/>
<circle cx="829.6" cy="2153.76" r="5.17" fill="#9c5ce5"/>
<circle cx="917.6" cy="2153.76" r="3.28" fill="#c8a8f2"/>
<circle cx="1005.6" cy="2153.76" r="2.15" fill="#eef9fe"/>
<circle cx="1093.6" cy="2153.76" r="8.45" fill="#b88aed"/>
<circle cx="213.6" cy="2173.43" r="5.52" fill="#8b40e0"/>
<circle cx="301.6" cy="2173.43" r="2.93" fill="#c5a3f2"/>
<circle cx="389.6" cy="2173.43" r="4.48" fill="#a66ce8"/>
<circle cx="477.6" cy="2173.43" r="3.10" fill="#c8a8f2"/>
<circle cx="565.6" cy="2173.43" r="4.48" fill="#a367e7"/>
<circle cx="653.6" cy="2173.43" r="2.24" fill="#d0b7f5"/>
<circle cx="741.6" cy="2173.43" r="5.00" fill="#af7beb"/>
<circle cx="829.6" cy="2173.43" r="3.45" fill="#ac76ea"/>
<circle cx="917.6" cy="2173.43" r="3.79" fill="#a971e9"/>
<circle cx="1005.6" cy="2173.43" r="2.15" fill="#e7eafc"/>
<circle cx="1093.6" cy="2173.43" r="2.15" fill="#e7eafc"/>
<circle cx="213.6" cy="2193.10" r="6.90" fill="#8b40e0"/>
<circle cx="301.6" cy="2193.10" r="4.14" fill="#b280ec"/>
<circle cx="389.6" cy="2193.10" r="4.83" fill="#a971e9"/>
<circle cx="477.6" cy="2193.10" r="2.59" fill="#d2bcf6"/>
<circle cx="565.6" cy="2193.10" r="5.00" fill="#a367e7"/>
<circle cx="653.6" cy="2193.10" r="2.24" fill="#d0b7f5"/>
<circle cx="741.6" cy="2193.10" r="4.48" fill="#b585ec"/>
<circle cx="829.6" cy="2193.10" r="3.97" fill="#a367e7"/>
<circle cx="917.6" cy="2193.10" r="4.66" fill="#9c5ce5"/>
<circle cx="1005.6" cy="2193.10" r="2.15" fill="#e7eafc"/>
<circle cx="1093.6" cy="2193.10" r="2.15" fill="#e5e5fc"/>
</g>
<g stroke="#000" stroke-width="2.85" fill="none">
<path d="M160.9 75.3V2206.7"/>
<path d="M159.47 2204.8H1147.5"/>
<path d="M151.4 88.46H160.9M151.4 108.13H160.9M151.4 127.80H160.9M151.4 147.47H160.9M151.4 167.14H160.9M151.4 186.81H160.9M151.4 206.48H160.9M151.4 226.15H160.9M151.4 245.82H160.9M151.4 265.49H160.9M151.4 285.15H160.9M151.4 304.82H160.9M151.4 324.49H160.9M151.4 344.16H160.9M151.4 363.83H160.9M151.4 383.50H160.9M151.4 403.17H160.9M151.4 422.84H160.9M151.4 442.51H160.9M151.4 462.18H160.9M151.4 481.85H160.9M151.4 501.52H160.9M151.4 521.19H160.9M151.4 540.86H160.9M151.4 560.53H160.9M151.4 580.20H160.9M151.4 599.87H160.9M151.4 619.54H160.9M151.4 639.21H160.9M151.4 658.88H160.9M151.4 678.55H160.9M151.4 698.21H160.9M151.4 717.88H160.9M151.4 737.55H160.9M151.4 757.22H160.9M151.4 776.89H160.9M151.4 796.56H160.9M151.4 816.23H160.9M151.4 835.90H160.9M151.4 855.57H160.9M151.4 875.24H160.9M151.4 894.91H160.9M151.4 914.58H160.9M151.4 934.25H160.9M151.4 953.92H160.9M151.4 973.59H160.9M151.4 993.26H160.9M151.4 1012.93H160.9M151.4 1032.60H160.9M151.4 1052.27H160.9M151.4 1071.93H160.9M151.4 1091.60H160.9M151.4 1111.27H160.9M151.4 1130.94H160.9M151.4 1150.61H160.9M151.4 1170.28H160.9M151.4 1189.95H160.9M151.4 1209.62H160.9M151.4 1229.29H160.9M151.4 1248.96H160.9M151.4 1268.63H160.9M151.4 1288.30H160.9M151.4 1307.97H160.9M151.4 1327.64H160.9M151.4 1347.31H160.9M151.4 1366.98H160.9M151.4 1386.65H160.9M151.4 1406.32H160.9M151.4 1425.99H160.9M151.4 1445.66H160.9M151.4 1465.33H160.9M151.4 1484.99H160.9M151.4 1504.66H160.9M151.4 1524.33H160.9M151.4 1544.00H160.9M151.4 1563.67H160.9M151.4 1583.34H160.9M151.4 1603.01H160.9M151.4 1622.68H160.9M151.4 1642.35H160.9M151.4 1662.02H160.9M151.4 1681.69H160.9M151.4 1701.36H160.9M151.4 1721.03H160.9M151.4 1740.70H160.9M151.4 1760.37H160.9M151.4 1780.04H160.9M151.4 1799.71H160.9M151.4 1819.38H160.9M151.4 1839.05H160.9M151.4 1858.71H160.9M151.4 1878.38H160.9M151.4 1898.05H160.9M151.4 1917.72H160.9M151.4 1937.39H160.9M151.4 1957.06H160.9M151.4 1976.73H160.9M151.4 1996.40H160.9M151.4 2016.07H160.9M151.4 2035.74H160.9M151.4 2055.41H160.9M151.4 2075.08H160.9M151.4 2094.75H160.9M151.4 2114.42H160.9M151.4 2134.09H160.9M151.4 2153.76H160.9M151.4 2173.43H160.9M151.4 2193.10H160.9"/>
<path d="M213.6 2204.8V2214.1M301.6 2204.8V2214.1M389.6 2204.8V2214.1M477.6 2204.8V2214.1M565.6 2204.8V2214.1M653.6 2204.8V2214.1M741.6 2204.8V2214.1M829.6 2204.8V2214.1M917.6 2204.8V2214.1M1005.6 2204.8V2214.1M1093.6 2204.8V2214.1"/>
</g>
<g font-size="21.36" text-anchor="end" stroke-width="0.3">
<text x="143.1" y="96.7" fill="#551cab" stroke="#551cab">CES1</text>
<text x="143.1" y="116.3" fill="#551cab" stroke="#551cab">CYP27A1</text>
<text x="143.1" y="136.0" fill="#551cab" stroke="#551cab">LRP1</text>
<text x="143.1" y="155.7" fill="#551cab" stroke="#551cab">INHBA</text>
<text x="143.1" y="175.3" fill="#551cab" stroke="#551cab">OLR1</text>
<text x="143.1" y="195.0" fill="#551cab" stroke="#551cab">GPNMB</text>
<text x="143.1" y="214.7" fill="#551cab" stroke="#551cab">FN1</text>
<text x="143.1" y="234.3" fill="#551cab" stroke="#551cab">C1QA</text>
<text x="143.1" y="254.0" fill="#551cab" stroke="#551cab">FABP4</text>
<text x="143.1" y="273.7" fill="#551cab" stroke="#551cab">MARCO</text>
<text x="143.1" y="293.4" fill="#1ff8a9" stroke="#1ff8a9">EBF1</text>
<text x="143.1" y="313.0" fill="#1ff8a9" stroke="#1ff8a9">ELL3</text>
<text x="143.1" y="332.7" fill="#1ff8a9" stroke="#1ff8a9">CD22</text>
<text x="143.1" y="352.4" fill="#1ff8a9" stroke="#1ff8a9">AFF2</text>
<text x="143.1" y="372.0" fill="#1ff8a9" stroke="#1ff8a9">OSBPL10</text>
<text x="143.1" y="391.7" fill="#1ff8a9" stroke="#1ff8a9">TUBB2B</text>
<text x="143.1" y="411.4" fill="#1ff8a9" stroke="#1ff8a9">A4GALT</text>
<text x="143.1" y="431.0" fill="#1ff8a9" stroke="#1ff8a9">ZNF608</text>
<text x="143.1" y="450.7" fill="#1ff8a9" stroke="#1ff8a9">SERPINA9</text>
<text x="143.1" y="470.4" fill="#1ff8a9" stroke="#1ff8a9">TCL1A</text>
<text x="143.1" y="490.0" fill="#7f2b27" stroke="#7f2b27">CHI3L2</text>
<text x="143.1" y="509.7" fill="#7f2b27" stroke="#7f2b27">KLF2</text>
<text x="143.1" y="529.4" fill="#7f2b27" stroke="#7f2b27">S1PR1</text>
<text x="143.1" y="549.1" fill="#7f2b27" stroke="#7f2b27">SELL</text>
<text x="143.1" y="568.7" fill="#7f2b27" stroke="#7f2b27">ACTN1</text>
<text x="143.1" y="588.4" fill="#7f2b27" stroke="#7f2b27">MAL</text>
<text x="143.1" y="608.1" fill="#7f2b27" stroke="#7f2b27">CCR7</text>
<text x="143.1" y="627.7" fill="#7f2b27" stroke="#7f2b27">TRABD2A</text>
<text x="143.1" y="647.4" fill="#7f2b27" stroke="#7f2b27">NOG</text>
<text x="143.1" y="667.1" fill="#0a84fc" stroke="#0a84fc">SLC25A37</text>
<text x="143.1" y="686.7" fill="#0a84fc" stroke="#0a84fc">PLEK</text>
<text x="143.1" y="706.4" fill="#0a84fc" stroke="#0a84fc">OSM</text>
<text x="143.1" y="726.1" fill="#0a84fc" stroke="#0a84fc">CXCL8</text>
<text x="143.1" y="745.8" fill="#0a84fc" stroke="#0a84fc">MEFV</text>
<text x="143.1" y="765.4" fill="#0a84fc" stroke="#0a84fc">PTGS2</text>
<text x="143.1" y="785.1" fill="#0a84fc" stroke="#0a84fc">G0S2</text>
<text x="143.1" y="804.8" fill="#0a84fc" stroke="#0a84fc">FFAR2</text>
<text x="143.1" y="824.4" fill="#0a84fc" stroke="#0a84fc">CSF3R</text>
<text x="143.1" y="844.1" fill="#ffc800" stroke="#ffc800">RAD54L</text>
<text x="143.1" y="863.8" fill="#ffc800" stroke="#ffc800">UHRF1</text>
<text x="143.1" y="883.4" fill="#ffc800" stroke="#ffc800">TYMS</text>
<text x="143.1" y="903.1" fill="#ffc800" stroke="#ffc800">CDCA5</text>
<text x="143.1" y="922.8" fill="#ffc800" stroke="#ffc800">KIF18B</text>
<text x="143.1" y="942.4" fill="#ffc800" stroke="#ffc800">CDC45</text>
<text x="143.1" y="962.1" fill="#ffc800" stroke="#ffc800">RRM2</text>
<text x="143.1" y="981.8" fill="#ffc800" stroke="#ffc800">MCM10</text>
<text x="143.1" y="1001.5" fill="#ffc800" stroke="#ffc800">PKMYT1</text>
<text x="143.1" y="1021.1" fill="#ffc800" stroke="#ffc800">WFDC2</text>
<text x="143.1" y="1040.8" fill="#0b4a08" stroke="#0b4a08">ACSL6</text>
<text x="143.1" y="1060.5" fill="#0b4a08" stroke="#0b4a08">TYROBP</text>
<text x="143.1" y="1080.1" fill="#0b4a08" stroke="#0b4a08">FCER1G</text>
<text x="143.1" y="1099.8" fill="#0b4a08" stroke="#0b4a08">ITGAX</text>
<text x="143.1" y="1119.5" fill="#0b4a08" stroke="#0b4a08">ITGAM</text>
<text x="143.1" y="1139.1" fill="#0b4a08" stroke="#0b4a08">ADGRG3</text>
<text x="143.1" y="1158.8" fill="#0b4a08" stroke="#0b4a08">NCAM1</text>
<text x="143.1" y="1178.5" fill="#0b4a08" stroke="#0b4a08">DLL1</text>
<text x="143.1" y="1198.2" fill="#0b4a08" stroke="#0b4a08">AREG</text>
<text x="143.1" y="1217.8" fill="#0b4a08" stroke="#0b4a08">SH2D1B</text>
<text x="143.1" y="1237.5" fill="#ff0aaa" stroke="#ff0aaa">CMPK2</text>
<text x="143.1" y="1257.2" fill="#ff0aaa" stroke="#ff0aaa">IFIT2</text>
<text x="143.1" y="1276.8" fill="#ff0aaa" stroke="#ff0aaa">IFI6</text>
<text x="143.1" y="1296.5" fill="#ff0aaa" stroke="#ff0aaa">PRF1</text>
<text x="143.1" y="1316.2" fill="#ff0aaa" stroke="#ff0aaa">LAG3</text>
<text x="143.1" y="1335.8" fill="#ff0aaa" stroke="#ff0aaa">USP18</text>
<text x="143.1" y="1355.5" fill="#ff0aaa" stroke="#ff0aaa">RSAD2</text>
<text x="143.1" y="1375.2" fill="#ff0aaa" stroke="#ff0aaa">IFI27</text>
<text x="143.1" y="1394.8" fill="#ff0aaa" stroke="#ff0aaa">GZMB</text>
<text x="143.1" y="1414.5" fill="#ff0aaa" stroke="#ff0aaa">IFIT3</text>
<text x="143.1" y="1434.2" fill="#05052a" stroke="#05052a">PTGDR</text>
<text x="143.1" y="1453.9" fill="#05052a" stroke="#05052a">PITPNM2</text>
<text x="143.1" y="1473.5" fill="#05052a" stroke="#05052a">PLAC8</text>
<text x="143.1" y="1493.2" fill="#05052a" stroke="#05052a">LSR</text>
<text x="143.1" y="1512.9" fill="#05052a" stroke="#05052a">TCF7</text>
<text x="143.1" y="1532.5" fill="#05052a" stroke="#05052a">ID3</text>
<text x="143.1" y="1552.2" fill="#05052a" stroke="#05052a">CHST2</text>
<text x="143.1" y="1571.9" fill="#05052a" stroke="#05052a">CD300A</text>
<text x="143.1" y="1591.5" fill="#05052a" stroke="#05052a">LEF1</text>
<text x="143.1" y="1611.2" fill="#05052a" stroke="#05052a">FCRL3</text>
<text x="143.1" y="1630.9" fill="#2aff0d" stroke="#2aff0d">LTB</text>
<text x="143.1" y="1650.6" fill="#2aff0d" stroke="#2aff0d">TNFRSF25</text>
<text x="143.1" y="1670.2" fill="#2aff0d" stroke="#2aff0d">NPDC1</text>
<text x="143.1" y="1689.9" fill="#2aff0d" stroke="#2aff0d">ZC3H12D</text>
<text x="143.1" y="1709.6" fill="#2aff0d" stroke="#2aff0d">CD28</text>
<text x="143.1" y="1729.2" fill="#2aff0d" stroke="#2aff0d">CD4</text>
<text x="143.1" y="1748.9" fill="#2aff0d" stroke="#2aff0d">CD40LG</text>
<text x="143.1" y="1768.6" fill="#2aff0d" stroke="#2aff0d">CCR4</text>
<text x="143.1" y="1788.2" fill="#2aff0d" stroke="#2aff0d">MAF</text>
<text x="143.1" y="1807.9" fill="#2aff0d" stroke="#2aff0d">TNFRSF4</text>
<text x="143.1" y="1827.6" fill="#ff0808" stroke="#ff0808">ADGRG1</text>
<text x="143.1" y="1847.2" fill="#ff0808" stroke="#ff0808">NUGGC</text>
<text x="143.1" y="1866.9" fill="#ff0808" stroke="#ff0808">ITGA1</text>
<text x="143.1" y="1886.6" fill="#ff0808" stroke="#ff0808">SLC12A6</text>
<text x="143.1" y="1906.3" fill="#ff0808" stroke="#ff0808">HOPX</text>
<text x="143.1" y="1925.9" fill="#ff0808" stroke="#ff0808">CSF1</text>
<text x="143.1" y="1945.6" fill="#ff0808" stroke="#ff0808">ATP8B4</text>
<text x="143.1" y="1965.3" fill="#ff0808" stroke="#ff0808">CLNK</text>
<text x="143.1" y="1984.9" fill="#ff0808" stroke="#ff0808">SPRY2</text>
<text x="143.1" y="2004.6" fill="#ff0808" stroke="#ff0808">KLRC1</text>
<text x="143.1" y="2024.3" fill="#0808ff" stroke="#0808ff">CD8A</text>
<text x="143.1" y="2043.9" fill="#0808ff" stroke="#0808ff">CXCR6</text>
<text x="143.1" y="2063.6" fill="#0808ff" stroke="#0808ff">CD2</text>
<text x="143.1" y="2083.3" fill="#0808ff" stroke="#0808ff">MGAT4A</text>
<text x="143.1" y="2102.9" fill="#0808ff" stroke="#0808ff">TOB1</text>
<text x="143.1" y="2122.6" fill="#0808ff" stroke="#0808ff">SIT1</text>
<text x="143.1" y="2142.3" fill="#0808ff" stroke="#0808ff">PAG1</text>
<text x="143.1" y="2162.0" fill="#0808ff" stroke="#0808ff">JAML</text>
<text x="143.1" y="2181.6" fill="#0808ff" stroke="#0808ff">GRAP2</text>
<text x="143.1" y="2201.3" fill="#0808ff" stroke="#0808ff">THEMIS</text>
</g>
<g font-size="32" text-anchor="end" fill="#000">
<text transform="translate(212.8 2222.4) rotate(-45)" x="0" y="22.9">0</text>
<text transform="translate(300.8 2222.4) rotate(-45)" x="0" y="22.9">1</text>
<text transform="translate(388.8 2222.4) rotate(-45)" x="0" y="22.9">2</text>
<text transform="translate(476.8 2222.4) rotate(-45)" x="0" y="22.9">3</text>
<text transform="translate(564.8 2222.4) rotate(-45)" x="0" y="22.9">4</text>
<text transform="translate(652.8 2222.4) rotate(-45)" x="0" y="22.9">5</text>
<text transform="translate(740.8 2222.4) rotate(-45)" x="0" y="22.9">6</text>
<text transform="translate(828.8 2222.4) rotate(-45)" x="0" y="22.9">7</text>
<text transform="translate(916.8 2222.4) rotate(-45)" x="0" y="22.9">8</text>
<text transform="translate(1004.8 2222.4) rotate(-45)" x="0" y="22.9">9</text>
<text transform="translate(1092.8 2222.4) rotate(-45)" x="0" y="22.9">10</text>
</g>
<defs><linearGradient id="cb" x1="0" y1="1" x2="0" y2="0">
<stop offset="0.000" stop-color="#f0ffff"/>
<stop offset="0.050" stop-color="#ebf4fe"/>
<stop offset="0.100" stop-color="#e6e8fc"/>
<stop offset="0.150" stop-color="#e2ddfb"/>
<stop offset="0.200" stop-color="#dcd2f9"/>
<stop offset="0.250" stop-color="#d7c7f7"/>
<stop offset="0.300" stop-color="#d2bcf6"/>
<stop offset="0.350" stop-color="#ccb1f4"/>
<stop offset="0.400" stop-color="#c7a6f2"/>
<stop offset="0.450" stop-color="#c19bf0"/>
<stop offset="0.500" stop-color="#bb90ee"/>
<stop offset="0.550" stop-color="#b484ec"/>
<stop offset="0.600" stop-color="#ae79ea"/>
<stop offset="0.650" stop-color="#a76ee8"/>
<stop offset="0.700" stop-color="#a063e6"/>
<stop offset="0.750" stop-color="#9957e4"/>
<stop offset="0.800" stop-color="#924be2"/>
<stop offset="0.850" stop-color="#8a3ee0"/>
<stop offset="0.900" stop-color="#8230de"/>
<stop offset="0.950" stop-color="#791edb"/>
<stop offset="1.000" stop-color="#7000d9"/>
</linearGradient></defs>
<text x="1183.0" y="896.2" font-size="37.42" fill="#000">Average Expression</text>
<rect x="1183.2" y="917.4" width="41.0" height="204.8" fill="url(#cb)"/>
<text x="1242.0" y="952.7" font-size="32" fill="#000">2</text>
<text x="1242.0" y="999.1" font-size="32" fill="#000">1</text>
<text x="1242.0" y="1045.3" font-size="32" fill="#000">0</text>
<text x="1242.0" y="1091.6" font-size="32" fill="#000">-1</text>
<path d="M1183.2 941.0h8.2M1224.2 941.0h-8.2M1183.2 987.4h8.2M1224.2 987.4h-8.2M1183.2 1033.6h8.2M1224.2 1033.6h-8.2M1183.2 1079.9h8.2M1224.2 1079.9h-8.2" stroke="#fff" stroke-opacity="0.8" stroke-width="1.6" fill="none"/>
<text x="1181.6" y="1191.2" font-size="37.42" fill="#000">Percent Expressed</text>
<circle cx="1203.6" cy="1232.9" r="2.25" fill="#000"/>
<text x="1242.0" y="1244.6" font-size="32" fill="#000">0</text>
<circle cx="1203.6" cy="1273.9" r="4.3" fill="#000"/>
<text x="1242.0" y="1285.6" font-size="32" fill="#000">25</text>
<circle cx="1203.6" cy="1314.7" r="6.35" fill="#000"/>
<text x="1242.0" y="1326.4" font-size="32" fill="#000">50</text>
<circle cx="1203.6" cy="1355.5" r="8.45" fill="#000"/>
<text x="1242.0" y="1367.2" font-size="32" fill="#000">75</text>
<circle cx="1203.6" cy="1396.5" r="10.5" fill="#000"/>
<text x="1242.0" y="1408.2" font-size="32" fill="#000">100</text>
</svg></body></html>
